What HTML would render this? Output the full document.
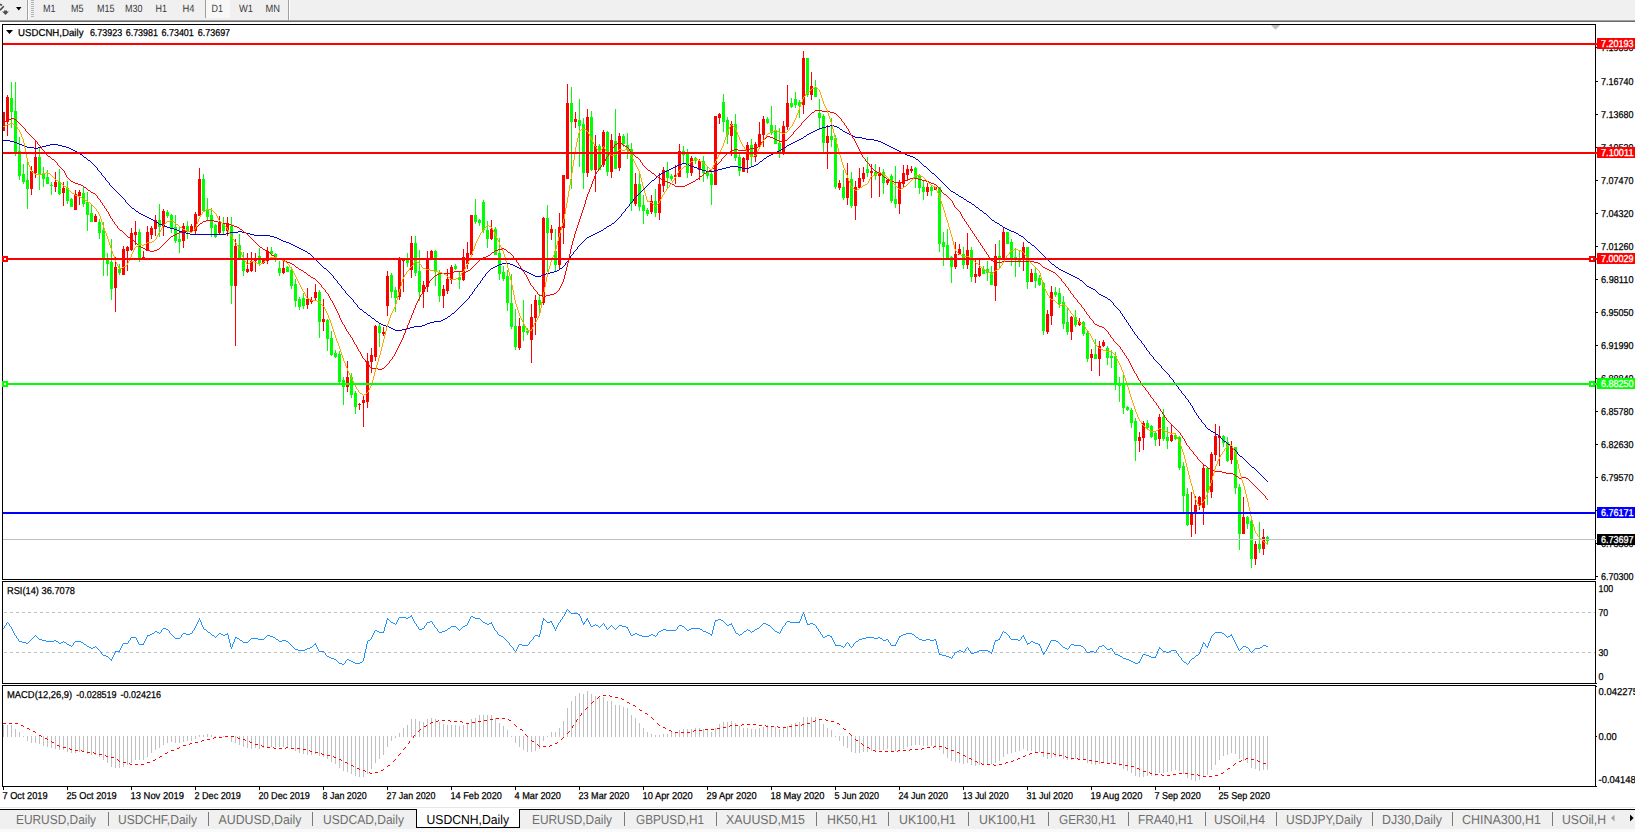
<!DOCTYPE html>
<html><head><meta charset="utf-8"><title>USDCNH,Daily</title>
<style>html,body{margin:0;padding:0;background:#fff;overflow:hidden}body{width:1635px;height:832px;font-family:"Liberation Sans",sans-serif}</style></head>
<body>
<svg width="1635" height="832" viewBox="0 0 1635 832" font-family='"Liberation Sans", sans-serif' text-rendering="geometricPrecision" style="display:block">
<rect x="0" y="0" width="1635" height="832" fill="#fff"/>
<g shape-rendering="crispEdges">
<rect x="0" y="0" width="1635" height="20" fill="#f0f0f0"/>
<rect x="0" y="20" width="1635" height="1" fill="#a0a0a0"/>
<rect x="0" y="21" width="1635" height="1" fill="#696969"/>
<rect x="27" y="0" width="1" height="20" fill="#a0a0a0"/>
<rect x="28" y="0" width="1" height="20" fill="#ffffff"/>
<rect x="205" y="0" width="1" height="18" fill="#a0a0a0"/>
<rect x="288" y="0" width="1" height="20" fill="#a0a0a0"/>
<rect x="289" y="0" width="1" height="20" fill="#ffffff"/>
<rect x="31" y="0" width="3" height="1" fill="#b4b4b4"/>
<rect x="31" y="2" width="3" height="1" fill="#b4b4b4"/>
<rect x="31" y="4" width="3" height="1" fill="#b4b4b4"/>
<rect x="31" y="6" width="3" height="1" fill="#b4b4b4"/>
<rect x="31" y="8" width="3" height="1" fill="#b4b4b4"/>
<rect x="31" y="10" width="3" height="1" fill="#b4b4b4"/>
<rect x="31" y="12" width="3" height="1" fill="#b4b4b4"/>
<rect x="31" y="14" width="3" height="1" fill="#b4b4b4"/>
<rect x="31" y="16" width="3" height="1" fill="#b4b4b4"/>
<rect x="206" y="0" width="24" height="18" fill="#f8f8f8"/>
</g>
<path d="M0 4.3 L2 5.4 M3.8 6.3 L0 10.2" stroke="#484848" stroke-width="1.6" fill="none"/>
<path d="M4 10.6 L7 10.6 L7 11.6 L8.9 11.6 L5.5 15 L2.1 11.6 L4 11.6 Z" fill="#505050"/>
<path d="M16 7 L21.5 7 L18.75 10.5 Z" fill="#000"/>
<text x="43" y="12" font-size="10.5" fill="#3c3c3c" text-anchor="start" textLength="12.5" lengthAdjust="spacingAndGlyphs">M1</text>
<text x="71" y="12" font-size="10.5" fill="#3c3c3c" text-anchor="start" textLength="12.5" lengthAdjust="spacingAndGlyphs">M5</text>
<text x="97" y="12" font-size="10.5" fill="#3c3c3c" text-anchor="start" textLength="17.5" lengthAdjust="spacingAndGlyphs">M15</text>
<text x="125" y="12" font-size="10.5" fill="#3c3c3c" text-anchor="start" textLength="17.5" lengthAdjust="spacingAndGlyphs">M30</text>
<text x="155.5" y="12" font-size="10.5" fill="#3c3c3c" text-anchor="start" textLength="11.5" lengthAdjust="spacingAndGlyphs">H1</text>
<text x="182.5" y="12" font-size="10.5" fill="#3c3c3c" text-anchor="start" textLength="12" lengthAdjust="spacingAndGlyphs">H4</text>
<text x="211.5" y="12" font-size="10.5" fill="#3c3c3c" text-anchor="start" textLength="11.5" lengthAdjust="spacingAndGlyphs">D1</text>
<text x="239" y="12" font-size="10.5" fill="#3c3c3c" text-anchor="start" textLength="14" lengthAdjust="spacingAndGlyphs">W1</text>
<text x="265.5" y="12" font-size="10.5" fill="#3c3c3c" text-anchor="start" textLength="14.5" lengthAdjust="spacingAndGlyphs">MN</text>
<g shape-rendering="crispEdges">
<rect x="2" y="24" width="1594" height="1" fill="#000"/>
<rect x="2" y="579" width="1594" height="1" fill="#000"/>
<rect x="2" y="24" width="1" height="556" fill="#000"/>
<rect x="1595" y="24" width="1" height="556" fill="#000"/>
<rect x="2" y="581" width="1594" height="1" fill="#000"/>
<rect x="2" y="683" width="1594" height="1" fill="#000"/>
<rect x="2" y="581" width="1" height="103" fill="#000"/>
<rect x="1595" y="581" width="1" height="103" fill="#000"/>
<rect x="2" y="685" width="1594" height="1" fill="#000"/>
<rect x="2" y="786" width="1594" height="1" fill="#000"/>
<rect x="2" y="685" width="1" height="102" fill="#000"/>
<rect x="1595" y="685" width="1" height="102" fill="#000"/>
</g>
<defs><clipPath id="cm"><rect x="3" y="25" width="1592" height="554"/></clipPath>
<clipPath id="cr"><rect x="3" y="582" width="1592" height="101"/></clipPath>
<clipPath id="cd"><rect x="3" y="686" width="1592" height="100"/></clipPath></defs>
<g shape-rendering="crispEdges">
<rect x="1596" y="47" width="2" height="1" fill="#000"/>
<rect x="1596" y="81" width="2" height="1" fill="#000"/>
<rect x="1596" y="114" width="2" height="1" fill="#000"/>
<rect x="1596" y="147" width="2" height="1" fill="#000"/>
<rect x="1596" y="180" width="2" height="1" fill="#000"/>
<rect x="1596" y="213" width="2" height="1" fill="#000"/>
<rect x="1596" y="246" width="2" height="1" fill="#000"/>
<rect x="1596" y="279" width="2" height="1" fill="#000"/>
<rect x="1596" y="312" width="2" height="1" fill="#000"/>
<rect x="1596" y="345" width="2" height="1" fill="#000"/>
<rect x="1596" y="378" width="2" height="1" fill="#000"/>
<rect x="1596" y="411" width="2" height="1" fill="#000"/>
<rect x="1596" y="444" width="2" height="1" fill="#000"/>
<rect x="1596" y="477" width="2" height="1" fill="#000"/>
<rect x="1596" y="543" width="2" height="1" fill="#000"/>
<rect x="1596" y="576" width="2" height="1" fill="#000"/>
</g>
<text x="1601" y="50.5" font-size="10.0" fill="#000" text-anchor="start" textLength="32.5" lengthAdjust="spacingAndGlyphs" stroke="#000" stroke-width="0.25">7.19890</text>
<text x="1601" y="84.5" font-size="10.0" fill="#000" text-anchor="start" textLength="32.5" lengthAdjust="spacingAndGlyphs" stroke="#000" stroke-width="0.25">7.16740</text>
<text x="1601" y="117.5" font-size="10.0" fill="#000" text-anchor="start" textLength="32.5" lengthAdjust="spacingAndGlyphs" stroke="#000" stroke-width="0.25">7.13680</text>
<text x="1601" y="150.5" font-size="10.0" fill="#000" text-anchor="start" textLength="32.5" lengthAdjust="spacingAndGlyphs" stroke="#000" stroke-width="0.25">7.10530</text>
<text x="1601" y="183.5" font-size="10.0" fill="#000" text-anchor="start" textLength="32.5" lengthAdjust="spacingAndGlyphs" stroke="#000" stroke-width="0.25">7.07470</text>
<text x="1601" y="216.5" font-size="10.0" fill="#000" text-anchor="start" textLength="32.5" lengthAdjust="spacingAndGlyphs" stroke="#000" stroke-width="0.25">7.04320</text>
<text x="1601" y="249.5" font-size="10.0" fill="#000" text-anchor="start" textLength="32.5" lengthAdjust="spacingAndGlyphs" stroke="#000" stroke-width="0.25">7.01260</text>
<text x="1601" y="282.5" font-size="10.0" fill="#000" text-anchor="start" textLength="32.5" lengthAdjust="spacingAndGlyphs" stroke="#000" stroke-width="0.25">6.98110</text>
<text x="1601" y="315.5" font-size="10.0" fill="#000" text-anchor="start" textLength="32.5" lengthAdjust="spacingAndGlyphs" stroke="#000" stroke-width="0.25">6.95050</text>
<text x="1601" y="348.5" font-size="10.0" fill="#000" text-anchor="start" textLength="32.5" lengthAdjust="spacingAndGlyphs" stroke="#000" stroke-width="0.25">6.91990</text>
<text x="1601" y="381.5" font-size="10.0" fill="#000" text-anchor="start" textLength="32.5" lengthAdjust="spacingAndGlyphs" stroke="#000" stroke-width="0.25">6.88840</text>
<text x="1601" y="414.5" font-size="10.0" fill="#000" text-anchor="start" textLength="32.5" lengthAdjust="spacingAndGlyphs" stroke="#000" stroke-width="0.25">6.85780</text>
<text x="1601" y="447.5" font-size="10.0" fill="#000" text-anchor="start" textLength="32.5" lengthAdjust="spacingAndGlyphs" stroke="#000" stroke-width="0.25">6.82630</text>
<text x="1601" y="480.5" font-size="10.0" fill="#000" text-anchor="start" textLength="32.5" lengthAdjust="spacingAndGlyphs" stroke="#000" stroke-width="0.25">6.79570</text>
<text x="1601" y="546.5" font-size="10.0" fill="#000" text-anchor="start" textLength="32.5" lengthAdjust="spacingAndGlyphs" stroke="#000" stroke-width="0.25">6.73360</text>
<text x="1601" y="579.5" font-size="10.0" fill="#000" text-anchor="start" textLength="32.5" lengthAdjust="spacingAndGlyphs" stroke="#000" stroke-width="0.25">6.70300</text>
<g clip-path="url(#cm)">
<g shape-rendering="crispEdges">
<rect x="3" y="112" width="1" height="19" fill="#ff0000"/>
<rect x="2" y="112" width="3" height="19" fill="#ff0000"/>
<rect x="7" y="95" width="1" height="41" fill="#ff0000"/>
<rect x="6" y="97" width="3" height="25" fill="#ff0000"/>
<rect x="11" y="82" width="1" height="46" fill="#00ff00"/>
<rect x="10" y="98" width="3" height="14" fill="#00ff00"/>
<rect x="15" y="82" width="1" height="74" fill="#00ff00"/>
<rect x="14" y="111" width="3" height="42" fill="#00ff00"/>
<rect x="19" y="137" width="1" height="43" fill="#00ff00"/>
<rect x="18" y="151" width="3" height="25" fill="#00ff00"/>
<rect x="23" y="164" width="1" height="20" fill="#00ff00"/>
<rect x="22" y="174" width="3" height="8" fill="#00ff00"/>
<rect x="27" y="162" width="1" height="47" fill="#00ff00"/>
<rect x="26" y="180" width="3" height="9" fill="#00ff00"/>
<rect x="31" y="166" width="1" height="29" fill="#ff0000"/>
<rect x="30" y="171" width="3" height="18" fill="#ff0000"/>
<rect x="35" y="140" width="1" height="38" fill="#ff0000"/>
<rect x="34" y="157" width="3" height="16" fill="#ff0000"/>
<rect x="39" y="147" width="1" height="43" fill="#00ff00"/>
<rect x="38" y="157" width="3" height="18" fill="#00ff00"/>
<rect x="43" y="167" width="1" height="20" fill="#00ff00"/>
<rect x="42" y="174" width="3" height="5" fill="#00ff00"/>
<rect x="47" y="170" width="1" height="14" fill="#00ff00"/>
<rect x="46" y="177" width="3" height="7" fill="#00ff00"/>
<rect x="51" y="182" width="1" height="13" fill="#00ff00"/>
<rect x="50" y="185" width="3" height="1" fill="#00ff00"/>
<rect x="55" y="172" width="1" height="20" fill="#ff0000"/>
<rect x="54" y="182" width="3" height="5" fill="#ff0000"/>
<rect x="59" y="169" width="1" height="26" fill="#00ff00"/>
<rect x="58" y="182" width="3" height="12" fill="#00ff00"/>
<rect x="63" y="182" width="1" height="24" fill="#ff0000"/>
<rect x="62" y="188" width="3" height="5" fill="#ff0000"/>
<rect x="67" y="181" width="1" height="23" fill="#00ff00"/>
<rect x="66" y="188" width="3" height="13" fill="#00ff00"/>
<rect x="71" y="198" width="1" height="9" fill="#00ff00"/>
<rect x="70" y="199" width="3" height="8" fill="#00ff00"/>
<rect x="75" y="190" width="1" height="20" fill="#ff0000"/>
<rect x="74" y="194" width="3" height="16" fill="#ff0000"/>
<rect x="79" y="190" width="1" height="15" fill="#ff0000"/>
<rect x="78" y="192" width="3" height="4" fill="#ff0000"/>
<rect x="83" y="187" width="1" height="20" fill="#00ff00"/>
<rect x="82" y="193" width="3" height="11" fill="#00ff00"/>
<rect x="87" y="192" width="1" height="39" fill="#00ff00"/>
<rect x="86" y="202" width="3" height="13" fill="#00ff00"/>
<rect x="91" y="204" width="1" height="18" fill="#00ff00"/>
<rect x="90" y="213" width="3" height="9" fill="#00ff00"/>
<rect x="95" y="214" width="1" height="8" fill="#ff0000"/>
<rect x="94" y="216" width="3" height="6" fill="#ff0000"/>
<rect x="99" y="219" width="1" height="20" fill="#00ff00"/>
<rect x="98" y="222" width="3" height="11" fill="#00ff00"/>
<rect x="103" y="222" width="1" height="54" fill="#00ff00"/>
<rect x="102" y="230" width="3" height="30" fill="#00ff00"/>
<rect x="107" y="253" width="1" height="23" fill="#00ff00"/>
<rect x="106" y="258" width="3" height="6" fill="#00ff00"/>
<rect x="111" y="239" width="1" height="61" fill="#00ff00"/>
<rect x="110" y="262" width="3" height="27" fill="#00ff00"/>
<rect x="115" y="257" width="1" height="55" fill="#ff0000"/>
<rect x="114" y="267" width="3" height="21" fill="#ff0000"/>
<rect x="119" y="264" width="1" height="11" fill="#00ff00"/>
<rect x="118" y="269" width="3" height="4" fill="#00ff00"/>
<rect x="123" y="246" width="1" height="29" fill="#ff0000"/>
<rect x="122" y="249" width="3" height="26" fill="#ff0000"/>
<rect x="127" y="246" width="1" height="25" fill="#ff0000"/>
<rect x="126" y="247" width="3" height="4" fill="#ff0000"/>
<rect x="131" y="228" width="1" height="23" fill="#ff0000"/>
<rect x="130" y="233" width="3" height="17" fill="#ff0000"/>
<rect x="135" y="221" width="1" height="24" fill="#ff0000"/>
<rect x="134" y="232" width="3" height="3" fill="#ff0000"/>
<rect x="139" y="229" width="1" height="33" fill="#00ff00"/>
<rect x="138" y="232" width="3" height="27" fill="#00ff00"/>
<rect x="143" y="251" width="1" height="9" fill="#ff0000"/>
<rect x="142" y="257" width="3" height="3" fill="#ff0000"/>
<rect x="147" y="226" width="1" height="25" fill="#ff0000"/>
<rect x="146" y="232" width="3" height="19" fill="#ff0000"/>
<rect x="151" y="226" width="1" height="13" fill="#ff0000"/>
<rect x="150" y="228" width="3" height="7" fill="#ff0000"/>
<rect x="155" y="215" width="1" height="21" fill="#ff0000"/>
<rect x="154" y="220" width="3" height="9" fill="#ff0000"/>
<rect x="159" y="204" width="1" height="33" fill="#00ff00"/>
<rect x="158" y="220" width="3" height="7" fill="#00ff00"/>
<rect x="163" y="209" width="1" height="27" fill="#ff0000"/>
<rect x="162" y="211" width="3" height="16" fill="#ff0000"/>
<rect x="167" y="210" width="1" height="8" fill="#00ff00"/>
<rect x="166" y="212" width="3" height="4" fill="#00ff00"/>
<rect x="171" y="214" width="1" height="19" fill="#00ff00"/>
<rect x="170" y="215" width="3" height="13" fill="#00ff00"/>
<rect x="175" y="215" width="1" height="28" fill="#00ff00"/>
<rect x="174" y="227" width="3" height="14" fill="#00ff00"/>
<rect x="179" y="226" width="1" height="27" fill="#00ff00"/>
<rect x="178" y="239" width="3" height="3" fill="#00ff00"/>
<rect x="183" y="223" width="1" height="25" fill="#ff0000"/>
<rect x="182" y="226" width="3" height="15" fill="#ff0000"/>
<rect x="187" y="221" width="1" height="18" fill="#00ff00"/>
<rect x="186" y="226" width="3" height="5" fill="#00ff00"/>
<rect x="191" y="224" width="1" height="8" fill="#ff0000"/>
<rect x="190" y="226" width="3" height="5" fill="#ff0000"/>
<rect x="195" y="212" width="1" height="23" fill="#ff0000"/>
<rect x="194" y="214" width="3" height="17" fill="#ff0000"/>
<rect x="199" y="168" width="1" height="48" fill="#ff0000"/>
<rect x="198" y="179" width="3" height="37" fill="#ff0000"/>
<rect x="203" y="174" width="1" height="37" fill="#00ff00"/>
<rect x="202" y="179" width="3" height="32" fill="#00ff00"/>
<rect x="207" y="198" width="1" height="23" fill="#00ff00"/>
<rect x="206" y="209" width="3" height="8" fill="#00ff00"/>
<rect x="211" y="208" width="1" height="29" fill="#00ff00"/>
<rect x="210" y="215" width="3" height="13" fill="#00ff00"/>
<rect x="215" y="224" width="1" height="14" fill="#00ff00"/>
<rect x="214" y="225" width="3" height="12" fill="#00ff00"/>
<rect x="219" y="216" width="1" height="18" fill="#ff0000"/>
<rect x="218" y="222" width="3" height="11" fill="#ff0000"/>
<rect x="223" y="217" width="1" height="18" fill="#00ff00"/>
<rect x="222" y="224" width="3" height="7" fill="#00ff00"/>
<rect x="227" y="217" width="1" height="19" fill="#ff0000"/>
<rect x="226" y="224" width="3" height="7" fill="#ff0000"/>
<rect x="231" y="217" width="1" height="87" fill="#00ff00"/>
<rect x="230" y="226" width="3" height="60" fill="#00ff00"/>
<rect x="235" y="239" width="1" height="107" fill="#ff0000"/>
<rect x="234" y="246" width="3" height="40" fill="#ff0000"/>
<rect x="239" y="234" width="1" height="25" fill="#00ff00"/>
<rect x="238" y="245" width="3" height="14" fill="#00ff00"/>
<rect x="243" y="252" width="1" height="24" fill="#00ff00"/>
<rect x="242" y="260" width="3" height="11" fill="#00ff00"/>
<rect x="247" y="253" width="1" height="20" fill="#ff0000"/>
<rect x="246" y="269" width="3" height="3" fill="#ff0000"/>
<rect x="251" y="252" width="1" height="20" fill="#ff0000"/>
<rect x="250" y="261" width="3" height="10" fill="#ff0000"/>
<rect x="255" y="253" width="1" height="19" fill="#ff0000"/>
<rect x="254" y="258" width="3" height="3" fill="#ff0000"/>
<rect x="259" y="248" width="1" height="18" fill="#00ff00"/>
<rect x="258" y="256" width="3" height="7" fill="#00ff00"/>
<rect x="263" y="258" width="1" height="6" fill="#ff0000"/>
<rect x="262" y="260" width="3" height="3" fill="#ff0000"/>
<rect x="267" y="247" width="1" height="17" fill="#ff0000"/>
<rect x="266" y="251" width="3" height="10" fill="#ff0000"/>
<rect x="271" y="247" width="1" height="9" fill="#00ff00"/>
<rect x="270" y="251" width="3" height="3" fill="#00ff00"/>
<rect x="275" y="253" width="1" height="9" fill="#00ff00"/>
<rect x="274" y="254" width="3" height="4" fill="#00ff00"/>
<rect x="279" y="261" width="1" height="15" fill="#00ff00"/>
<rect x="278" y="268" width="3" height="5" fill="#00ff00"/>
<rect x="283" y="261" width="1" height="13" fill="#ff0000"/>
<rect x="282" y="268" width="3" height="5" fill="#ff0000"/>
<rect x="287" y="266" width="1" height="6" fill="#00ff00"/>
<rect x="286" y="267" width="3" height="5" fill="#00ff00"/>
<rect x="291" y="267" width="1" height="22" fill="#00ff00"/>
<rect x="290" y="270" width="3" height="16" fill="#00ff00"/>
<rect x="295" y="279" width="1" height="28" fill="#00ff00"/>
<rect x="294" y="284" width="3" height="17" fill="#00ff00"/>
<rect x="299" y="297" width="1" height="13" fill="#00ff00"/>
<rect x="298" y="299" width="3" height="8" fill="#00ff00"/>
<rect x="303" y="293" width="1" height="16" fill="#00ff00"/>
<rect x="302" y="298" width="3" height="8" fill="#00ff00"/>
<rect x="307" y="288" width="1" height="21" fill="#ff0000"/>
<rect x="306" y="299" width="3" height="6" fill="#ff0000"/>
<rect x="311" y="297" width="1" height="7" fill="#ff0000"/>
<rect x="310" y="300" width="3" height="2" fill="#ff0000"/>
<rect x="315" y="284" width="1" height="17" fill="#ff0000"/>
<rect x="314" y="292" width="3" height="6" fill="#ff0000"/>
<rect x="319" y="290" width="1" height="48" fill="#00ff00"/>
<rect x="318" y="292" width="3" height="30" fill="#00ff00"/>
<rect x="323" y="299" width="1" height="32" fill="#ff0000"/>
<rect x="322" y="319" width="3" height="3" fill="#ff0000"/>
<rect x="327" y="319" width="1" height="32" fill="#00ff00"/>
<rect x="326" y="320" width="3" height="19" fill="#00ff00"/>
<rect x="331" y="331" width="1" height="25" fill="#00ff00"/>
<rect x="330" y="338" width="3" height="17" fill="#00ff00"/>
<rect x="335" y="350" width="1" height="8" fill="#00ff00"/>
<rect x="334" y="353" width="3" height="4" fill="#00ff00"/>
<rect x="339" y="351" width="1" height="32" fill="#00ff00"/>
<rect x="338" y="354" width="3" height="28" fill="#00ff00"/>
<rect x="343" y="377" width="1" height="28" fill="#00ff00"/>
<rect x="342" y="380" width="3" height="7" fill="#00ff00"/>
<rect x="347" y="361" width="1" height="31" fill="#ff0000"/>
<rect x="346" y="377" width="3" height="10" fill="#ff0000"/>
<rect x="351" y="373" width="1" height="25" fill="#00ff00"/>
<rect x="350" y="377" width="3" height="18" fill="#00ff00"/>
<rect x="355" y="391" width="1" height="23" fill="#00ff00"/>
<rect x="354" y="393" width="3" height="14" fill="#00ff00"/>
<rect x="359" y="403" width="1" height="7" fill="#ff0000"/>
<rect x="358" y="404" width="3" height="1" fill="#ff0000"/>
<rect x="363" y="396" width="1" height="31" fill="#ff0000"/>
<rect x="362" y="400" width="3" height="3" fill="#ff0000"/>
<rect x="367" y="353" width="1" height="55" fill="#ff0000"/>
<rect x="366" y="361" width="3" height="41" fill="#ff0000"/>
<rect x="371" y="348" width="1" height="25" fill="#ff0000"/>
<rect x="370" y="355" width="3" height="7" fill="#ff0000"/>
<rect x="375" y="325" width="1" height="36" fill="#ff0000"/>
<rect x="374" y="326" width="3" height="31" fill="#ff0000"/>
<rect x="379" y="323" width="1" height="24" fill="#00ff00"/>
<rect x="378" y="326" width="3" height="7" fill="#00ff00"/>
<rect x="383" y="327" width="1" height="9" fill="#ff0000"/>
<rect x="382" y="332" width="3" height="2" fill="#ff0000"/>
<rect x="387" y="271" width="1" height="45" fill="#ff0000"/>
<rect x="386" y="276" width="3" height="30" fill="#ff0000"/>
<rect x="391" y="273" width="1" height="25" fill="#00ff00"/>
<rect x="390" y="275" width="3" height="17" fill="#00ff00"/>
<rect x="395" y="287" width="1" height="25" fill="#00ff00"/>
<rect x="394" y="290" width="3" height="8" fill="#00ff00"/>
<rect x="399" y="257" width="1" height="43" fill="#ff0000"/>
<rect x="398" y="260" width="3" height="37" fill="#ff0000"/>
<rect x="403" y="258" width="1" height="34" fill="#ff0000"/>
<rect x="402" y="258" width="3" height="3" fill="#ff0000"/>
<rect x="407" y="253" width="1" height="14" fill="#00ff00"/>
<rect x="406" y="260" width="3" height="3" fill="#00ff00"/>
<rect x="411" y="236" width="1" height="42" fill="#ff0000"/>
<rect x="410" y="243" width="3" height="27" fill="#ff0000"/>
<rect x="415" y="236" width="1" height="40" fill="#00ff00"/>
<rect x="414" y="243" width="3" height="30" fill="#00ff00"/>
<rect x="419" y="250" width="1" height="51" fill="#00ff00"/>
<rect x="418" y="271" width="3" height="21" fill="#00ff00"/>
<rect x="423" y="281" width="1" height="27" fill="#ff0000"/>
<rect x="422" y="285" width="3" height="7" fill="#ff0000"/>
<rect x="427" y="251" width="1" height="41" fill="#ff0000"/>
<rect x="426" y="258" width="3" height="29" fill="#ff0000"/>
<rect x="431" y="250" width="1" height="8" fill="#ff0000"/>
<rect x="430" y="251" width="3" height="7" fill="#ff0000"/>
<rect x="435" y="250" width="1" height="36" fill="#00ff00"/>
<rect x="434" y="251" width="3" height="21" fill="#00ff00"/>
<rect x="439" y="270" width="1" height="32" fill="#00ff00"/>
<rect x="438" y="273" width="3" height="23" fill="#00ff00"/>
<rect x="443" y="285" width="1" height="23" fill="#ff0000"/>
<rect x="442" y="289" width="3" height="7" fill="#ff0000"/>
<rect x="447" y="269" width="1" height="25" fill="#ff0000"/>
<rect x="446" y="279" width="3" height="12" fill="#ff0000"/>
<rect x="451" y="265" width="1" height="19" fill="#ff0000"/>
<rect x="450" y="267" width="3" height="13" fill="#ff0000"/>
<rect x="455" y="264" width="1" height="6" fill="#00ff00"/>
<rect x="454" y="266" width="3" height="3" fill="#00ff00"/>
<rect x="459" y="271" width="1" height="18" fill="#00ff00"/>
<rect x="458" y="277" width="3" height="3" fill="#00ff00"/>
<rect x="463" y="249" width="1" height="32" fill="#ff0000"/>
<rect x="462" y="257" width="3" height="23" fill="#ff0000"/>
<rect x="467" y="242" width="1" height="27" fill="#ff0000"/>
<rect x="466" y="253" width="3" height="11" fill="#ff0000"/>
<rect x="471" y="215" width="1" height="40" fill="#ff0000"/>
<rect x="470" y="215" width="3" height="40" fill="#ff0000"/>
<rect x="475" y="199" width="1" height="25" fill="#00ff00"/>
<rect x="474" y="215" width="3" height="7" fill="#00ff00"/>
<rect x="479" y="219" width="1" height="7" fill="#00ff00"/>
<rect x="478" y="220" width="3" height="3" fill="#00ff00"/>
<rect x="483" y="200" width="1" height="33" fill="#00ff00"/>
<rect x="482" y="202" width="3" height="28" fill="#00ff00"/>
<rect x="487" y="221" width="1" height="27" fill="#00ff00"/>
<rect x="486" y="230" width="3" height="9" fill="#00ff00"/>
<rect x="491" y="220" width="1" height="20" fill="#ff0000"/>
<rect x="490" y="229" width="3" height="10" fill="#ff0000"/>
<rect x="495" y="227" width="1" height="28" fill="#00ff00"/>
<rect x="494" y="229" width="3" height="26" fill="#00ff00"/>
<rect x="499" y="238" width="1" height="42" fill="#00ff00"/>
<rect x="498" y="253" width="3" height="21" fill="#00ff00"/>
<rect x="503" y="266" width="1" height="15" fill="#00ff00"/>
<rect x="502" y="272" width="3" height="7" fill="#00ff00"/>
<rect x="507" y="270" width="1" height="41" fill="#00ff00"/>
<rect x="506" y="276" width="3" height="27" fill="#00ff00"/>
<rect x="511" y="274" width="1" height="55" fill="#00ff00"/>
<rect x="510" y="303" width="3" height="24" fill="#00ff00"/>
<rect x="515" y="309" width="1" height="41" fill="#00ff00"/>
<rect x="514" y="326" width="3" height="21" fill="#00ff00"/>
<rect x="519" y="318" width="1" height="32" fill="#ff0000"/>
<rect x="518" y="326" width="3" height="22" fill="#ff0000"/>
<rect x="523" y="300" width="1" height="41" fill="#00ff00"/>
<rect x="522" y="326" width="3" height="6" fill="#00ff00"/>
<rect x="527" y="328" width="1" height="7" fill="#00ff00"/>
<rect x="526" y="331" width="3" height="2" fill="#00ff00"/>
<rect x="531" y="304" width="1" height="59" fill="#ff0000"/>
<rect x="530" y="317" width="3" height="23" fill="#ff0000"/>
<rect x="535" y="295" width="1" height="40" fill="#ff0000"/>
<rect x="534" y="300" width="3" height="18" fill="#ff0000"/>
<rect x="539" y="294" width="1" height="21" fill="#00ff00"/>
<rect x="538" y="300" width="3" height="5" fill="#00ff00"/>
<rect x="543" y="217" width="1" height="88" fill="#ff0000"/>
<rect x="542" y="218" width="3" height="85" fill="#ff0000"/>
<rect x="547" y="205" width="1" height="67" fill="#00ff00"/>
<rect x="546" y="218" width="3" height="15" fill="#00ff00"/>
<rect x="551" y="225" width="1" height="15" fill="#ff0000"/>
<rect x="550" y="229" width="3" height="4" fill="#ff0000"/>
<rect x="555" y="229" width="1" height="43" fill="#00ff00"/>
<rect x="554" y="251" width="3" height="14" fill="#00ff00"/>
<rect x="559" y="213" width="1" height="57" fill="#ff0000"/>
<rect x="558" y="227" width="3" height="38" fill="#ff0000"/>
<rect x="563" y="175" width="1" height="69" fill="#ff0000"/>
<rect x="562" y="175" width="3" height="53" fill="#ff0000"/>
<rect x="567" y="84" width="1" height="95" fill="#ff0000"/>
<rect x="566" y="103" width="3" height="76" fill="#ff0000"/>
<rect x="571" y="87" width="1" height="102" fill="#00ff00"/>
<rect x="570" y="103" width="3" height="19" fill="#00ff00"/>
<rect x="575" y="112" width="1" height="16" fill="#ff0000"/>
<rect x="574" y="119" width="3" height="3" fill="#ff0000"/>
<rect x="579" y="99" width="1" height="68" fill="#00ff00"/>
<rect x="578" y="120" width="3" height="6" fill="#00ff00"/>
<rect x="583" y="118" width="1" height="71" fill="#00ff00"/>
<rect x="582" y="124" width="3" height="49" fill="#00ff00"/>
<rect x="587" y="109" width="1" height="68" fill="#ff0000"/>
<rect x="586" y="117" width="3" height="56" fill="#ff0000"/>
<rect x="591" y="111" width="1" height="60" fill="#00ff00"/>
<rect x="590" y="117" width="3" height="53" fill="#00ff00"/>
<rect x="595" y="135" width="1" height="57" fill="#ff0000"/>
<rect x="594" y="146" width="3" height="24" fill="#ff0000"/>
<rect x="599" y="144" width="1" height="26" fill="#00ff00"/>
<rect x="598" y="146" width="3" height="24" fill="#00ff00"/>
<rect x="603" y="130" width="1" height="37" fill="#ff0000"/>
<rect x="602" y="132" width="3" height="33" fill="#ff0000"/>
<rect x="607" y="131" width="1" height="45" fill="#00ff00"/>
<rect x="606" y="132" width="3" height="40" fill="#00ff00"/>
<rect x="611" y="134" width="1" height="44" fill="#ff0000"/>
<rect x="610" y="140" width="3" height="32" fill="#ff0000"/>
<rect x="615" y="109" width="1" height="60" fill="#00ff00"/>
<rect x="614" y="141" width="3" height="28" fill="#00ff00"/>
<rect x="619" y="133" width="1" height="38" fill="#ff0000"/>
<rect x="618" y="136" width="3" height="32" fill="#ff0000"/>
<rect x="623" y="134" width="1" height="13" fill="#00ff00"/>
<rect x="622" y="136" width="3" height="8" fill="#00ff00"/>
<rect x="627" y="133" width="1" height="26" fill="#00ff00"/>
<rect x="626" y="145" width="3" height="5" fill="#00ff00"/>
<rect x="631" y="143" width="1" height="68" fill="#00ff00"/>
<rect x="630" y="149" width="3" height="54" fill="#00ff00"/>
<rect x="635" y="173" width="1" height="33" fill="#ff0000"/>
<rect x="634" y="184" width="3" height="20" fill="#ff0000"/>
<rect x="639" y="171" width="1" height="40" fill="#00ff00"/>
<rect x="638" y="184" width="3" height="23" fill="#00ff00"/>
<rect x="643" y="195" width="1" height="29" fill="#00ff00"/>
<rect x="642" y="205" width="3" height="6" fill="#00ff00"/>
<rect x="647" y="208" width="1" height="8" fill="#00ff00"/>
<rect x="646" y="210" width="3" height="4" fill="#00ff00"/>
<rect x="651" y="195" width="1" height="19" fill="#ff0000"/>
<rect x="650" y="201" width="3" height="11" fill="#ff0000"/>
<rect x="655" y="189" width="1" height="28" fill="#00ff00"/>
<rect x="654" y="201" width="3" height="12" fill="#00ff00"/>
<rect x="659" y="173" width="1" height="47" fill="#ff0000"/>
<rect x="658" y="184" width="3" height="29" fill="#ff0000"/>
<rect x="663" y="167" width="1" height="25" fill="#ff0000"/>
<rect x="662" y="170" width="3" height="16" fill="#ff0000"/>
<rect x="667" y="162" width="1" height="27" fill="#00ff00"/>
<rect x="666" y="170" width="3" height="8" fill="#00ff00"/>
<rect x="671" y="174" width="1" height="7" fill="#00ff00"/>
<rect x="670" y="176" width="3" height="3" fill="#00ff00"/>
<rect x="675" y="165" width="1" height="19" fill="#ff0000"/>
<rect x="674" y="175" width="3" height="2" fill="#ff0000"/>
<rect x="679" y="144" width="1" height="33" fill="#ff0000"/>
<rect x="678" y="151" width="3" height="26" fill="#ff0000"/>
<rect x="683" y="146" width="1" height="17" fill="#00ff00"/>
<rect x="682" y="151" width="3" height="4" fill="#00ff00"/>
<rect x="687" y="149" width="1" height="29" fill="#00ff00"/>
<rect x="686" y="154" width="3" height="19" fill="#00ff00"/>
<rect x="691" y="156" width="1" height="20" fill="#ff0000"/>
<rect x="690" y="158" width="3" height="15" fill="#ff0000"/>
<rect x="695" y="157" width="1" height="7" fill="#00ff00"/>
<rect x="694" y="158" width="3" height="3" fill="#00ff00"/>
<rect x="699" y="159" width="1" height="21" fill="#ff0000"/>
<rect x="698" y="161" width="3" height="9" fill="#ff0000"/>
<rect x="703" y="156" width="1" height="26" fill="#00ff00"/>
<rect x="702" y="161" width="3" height="12" fill="#00ff00"/>
<rect x="707" y="166" width="1" height="13" fill="#00ff00"/>
<rect x="706" y="171" width="3" height="5" fill="#00ff00"/>
<rect x="711" y="172" width="1" height="33" fill="#00ff00"/>
<rect x="710" y="174" width="3" height="11" fill="#00ff00"/>
<rect x="715" y="116" width="1" height="69" fill="#ff0000"/>
<rect x="714" y="116" width="3" height="69" fill="#ff0000"/>
<rect x="719" y="113" width="1" height="11" fill="#ff0000"/>
<rect x="718" y="114" width="3" height="4" fill="#ff0000"/>
<rect x="723" y="94" width="1" height="38" fill="#00ff00"/>
<rect x="722" y="102" width="3" height="20" fill="#00ff00"/>
<rect x="727" y="117" width="1" height="27" fill="#00ff00"/>
<rect x="726" y="120" width="3" height="15" fill="#00ff00"/>
<rect x="731" y="121" width="1" height="35" fill="#ff0000"/>
<rect x="730" y="124" width="3" height="12" fill="#ff0000"/>
<rect x="735" y="114" width="1" height="47" fill="#00ff00"/>
<rect x="734" y="124" width="3" height="34" fill="#00ff00"/>
<rect x="739" y="154" width="1" height="22" fill="#00ff00"/>
<rect x="738" y="157" width="3" height="14" fill="#00ff00"/>
<rect x="743" y="157" width="1" height="15" fill="#ff0000"/>
<rect x="742" y="158" width="3" height="14" fill="#ff0000"/>
<rect x="747" y="142" width="1" height="31" fill="#ff0000"/>
<rect x="746" y="145" width="3" height="15" fill="#ff0000"/>
<rect x="751" y="139" width="1" height="27" fill="#00ff00"/>
<rect x="750" y="145" width="3" height="12" fill="#00ff00"/>
<rect x="755" y="142" width="1" height="20" fill="#ff0000"/>
<rect x="754" y="144" width="3" height="13" fill="#ff0000"/>
<rect x="759" y="122" width="1" height="25" fill="#ff0000"/>
<rect x="758" y="134" width="3" height="12" fill="#ff0000"/>
<rect x="763" y="116" width="1" height="31" fill="#ff0000"/>
<rect x="762" y="119" width="3" height="16" fill="#ff0000"/>
<rect x="767" y="117" width="1" height="7" fill="#00ff00"/>
<rect x="766" y="119" width="3" height="4" fill="#00ff00"/>
<rect x="771" y="106" width="1" height="29" fill="#00ff00"/>
<rect x="770" y="125" width="3" height="8" fill="#00ff00"/>
<rect x="775" y="125" width="1" height="19" fill="#00ff00"/>
<rect x="774" y="131" width="3" height="13" fill="#00ff00"/>
<rect x="779" y="128" width="1" height="30" fill="#00ff00"/>
<rect x="778" y="143" width="3" height="9" fill="#00ff00"/>
<rect x="783" y="121" width="1" height="34" fill="#ff0000"/>
<rect x="782" y="126" width="3" height="28" fill="#ff0000"/>
<rect x="787" y="85" width="1" height="45" fill="#ff0000"/>
<rect x="786" y="103" width="3" height="24" fill="#ff0000"/>
<rect x="791" y="98" width="1" height="10" fill="#00ff00"/>
<rect x="790" y="103" width="3" height="4" fill="#00ff00"/>
<rect x="795" y="92" width="1" height="16" fill="#00ff00"/>
<rect x="794" y="99" width="3" height="6" fill="#00ff00"/>
<rect x="799" y="100" width="1" height="18" fill="#00ff00"/>
<rect x="798" y="102" width="3" height="4" fill="#00ff00"/>
<rect x="803" y="51" width="1" height="63" fill="#ff0000"/>
<rect x="802" y="58" width="3" height="47" fill="#ff0000"/>
<rect x="807" y="58" width="1" height="39" fill="#00ff00"/>
<rect x="806" y="58" width="3" height="37" fill="#00ff00"/>
<rect x="811" y="72" width="1" height="28" fill="#ff0000"/>
<rect x="810" y="86" width="3" height="9" fill="#ff0000"/>
<rect x="815" y="80" width="1" height="17" fill="#00ff00"/>
<rect x="814" y="87" width="3" height="10" fill="#00ff00"/>
<rect x="819" y="99" width="1" height="31" fill="#00ff00"/>
<rect x="818" y="113" width="3" height="5" fill="#00ff00"/>
<rect x="823" y="114" width="1" height="38" fill="#00ff00"/>
<rect x="822" y="116" width="3" height="27" fill="#00ff00"/>
<rect x="827" y="125" width="1" height="44" fill="#ff0000"/>
<rect x="826" y="136" width="3" height="7" fill="#ff0000"/>
<rect x="831" y="118" width="1" height="29" fill="#00ff00"/>
<rect x="830" y="136" width="3" height="4" fill="#00ff00"/>
<rect x="835" y="135" width="1" height="54" fill="#00ff00"/>
<rect x="834" y="138" width="3" height="49" fill="#00ff00"/>
<rect x="839" y="180" width="1" height="10" fill="#ff0000"/>
<rect x="838" y="183" width="3" height="5" fill="#ff0000"/>
<rect x="843" y="170" width="1" height="30" fill="#00ff00"/>
<rect x="842" y="187" width="3" height="11" fill="#00ff00"/>
<rect x="847" y="163" width="1" height="42" fill="#ff0000"/>
<rect x="846" y="178" width="3" height="20" fill="#ff0000"/>
<rect x="851" y="172" width="1" height="36" fill="#00ff00"/>
<rect x="850" y="179" width="3" height="27" fill="#00ff00"/>
<rect x="855" y="181" width="1" height="39" fill="#ff0000"/>
<rect x="854" y="187" width="3" height="19" fill="#ff0000"/>
<rect x="859" y="168" width="1" height="21" fill="#ff0000"/>
<rect x="858" y="178" width="3" height="10" fill="#ff0000"/>
<rect x="863" y="167" width="1" height="15" fill="#ff0000"/>
<rect x="862" y="173" width="3" height="6" fill="#ff0000"/>
<rect x="867" y="157" width="1" height="20" fill="#00ff00"/>
<rect x="866" y="169" width="3" height="4" fill="#00ff00"/>
<rect x="871" y="164" width="1" height="34" fill="#ff0000"/>
<rect x="870" y="171" width="3" height="2" fill="#ff0000"/>
<rect x="875" y="164" width="1" height="16" fill="#00ff00"/>
<rect x="874" y="172" width="3" height="4" fill="#00ff00"/>
<rect x="879" y="167" width="1" height="30" fill="#ff0000"/>
<rect x="878" y="172" width="3" height="4" fill="#ff0000"/>
<rect x="883" y="169" width="1" height="25" fill="#00ff00"/>
<rect x="882" y="172" width="3" height="11" fill="#00ff00"/>
<rect x="887" y="179" width="1" height="6" fill="#ff0000"/>
<rect x="886" y="180" width="3" height="3" fill="#ff0000"/>
<rect x="891" y="174" width="1" height="29" fill="#00ff00"/>
<rect x="890" y="176" width="3" height="25" fill="#00ff00"/>
<rect x="895" y="166" width="1" height="42" fill="#00ff00"/>
<rect x="894" y="199" width="3" height="5" fill="#00ff00"/>
<rect x="899" y="180" width="1" height="34" fill="#ff0000"/>
<rect x="898" y="183" width="3" height="21" fill="#ff0000"/>
<rect x="903" y="165" width="1" height="23" fill="#ff0000"/>
<rect x="902" y="173" width="3" height="11" fill="#ff0000"/>
<rect x="907" y="165" width="1" height="16" fill="#ff0000"/>
<rect x="906" y="169" width="3" height="6" fill="#ff0000"/>
<rect x="911" y="166" width="1" height="7" fill="#ff0000"/>
<rect x="910" y="169" width="3" height="2" fill="#ff0000"/>
<rect x="915" y="167" width="1" height="21" fill="#00ff00"/>
<rect x="914" y="168" width="3" height="10" fill="#00ff00"/>
<rect x="919" y="174" width="1" height="20" fill="#00ff00"/>
<rect x="918" y="176" width="3" height="12" fill="#00ff00"/>
<rect x="923" y="180" width="1" height="20" fill="#00ff00"/>
<rect x="922" y="187" width="3" height="5" fill="#00ff00"/>
<rect x="927" y="183" width="1" height="13" fill="#ff0000"/>
<rect x="926" y="187" width="3" height="5" fill="#ff0000"/>
<rect x="931" y="185" width="1" height="11" fill="#00ff00"/>
<rect x="930" y="187" width="3" height="4" fill="#00ff00"/>
<rect x="935" y="187" width="1" height="3" fill="#ff0000"/>
<rect x="934" y="187" width="3" height="3" fill="#ff0000"/>
<rect x="939" y="187" width="1" height="65" fill="#00ff00"/>
<rect x="938" y="187" width="3" height="57" fill="#00ff00"/>
<rect x="943" y="232" width="1" height="34" fill="#00ff00"/>
<rect x="942" y="242" width="3" height="5" fill="#00ff00"/>
<rect x="947" y="229" width="1" height="30" fill="#00ff00"/>
<rect x="946" y="245" width="3" height="14" fill="#00ff00"/>
<rect x="951" y="256" width="1" height="27" fill="#00ff00"/>
<rect x="950" y="257" width="3" height="10" fill="#00ff00"/>
<rect x="955" y="242" width="1" height="27" fill="#ff0000"/>
<rect x="954" y="254" width="3" height="13" fill="#ff0000"/>
<rect x="959" y="244" width="1" height="11" fill="#ff0000"/>
<rect x="958" y="249" width="3" height="6" fill="#ff0000"/>
<rect x="963" y="247" width="1" height="22" fill="#00ff00"/>
<rect x="962" y="254" width="3" height="11" fill="#00ff00"/>
<rect x="967" y="233" width="1" height="36" fill="#ff0000"/>
<rect x="966" y="250" width="3" height="15" fill="#ff0000"/>
<rect x="971" y="247" width="1" height="35" fill="#00ff00"/>
<rect x="970" y="250" width="3" height="27" fill="#00ff00"/>
<rect x="975" y="258" width="1" height="25" fill="#ff0000"/>
<rect x="974" y="274" width="3" height="3" fill="#ff0000"/>
<rect x="979" y="258" width="1" height="19" fill="#ff0000"/>
<rect x="978" y="268" width="3" height="8" fill="#ff0000"/>
<rect x="983" y="266" width="1" height="8" fill="#00ff00"/>
<rect x="982" y="269" width="3" height="5" fill="#00ff00"/>
<rect x="987" y="261" width="1" height="20" fill="#00ff00"/>
<rect x="986" y="269" width="3" height="4" fill="#00ff00"/>
<rect x="991" y="266" width="1" height="19" fill="#00ff00"/>
<rect x="990" y="272" width="3" height="13" fill="#00ff00"/>
<rect x="995" y="244" width="1" height="57" fill="#ff0000"/>
<rect x="994" y="256" width="3" height="30" fill="#ff0000"/>
<rect x="999" y="240" width="1" height="28" fill="#00ff00"/>
<rect x="998" y="256" width="3" height="4" fill="#00ff00"/>
<rect x="1003" y="228" width="1" height="32" fill="#ff0000"/>
<rect x="1002" y="232" width="3" height="28" fill="#ff0000"/>
<rect x="1007" y="232" width="1" height="12" fill="#00ff00"/>
<rect x="1006" y="232" width="3" height="12" fill="#00ff00"/>
<rect x="1011" y="239" width="1" height="27" fill="#00ff00"/>
<rect x="1010" y="242" width="3" height="18" fill="#00ff00"/>
<rect x="1015" y="248" width="1" height="29" fill="#00ff00"/>
<rect x="1014" y="257" width="3" height="3" fill="#00ff00"/>
<rect x="1019" y="251" width="1" height="16" fill="#00ff00"/>
<rect x="1018" y="258" width="3" height="3" fill="#00ff00"/>
<rect x="1023" y="242" width="1" height="29" fill="#ff0000"/>
<rect x="1022" y="247" width="3" height="13" fill="#ff0000"/>
<rect x="1027" y="247" width="1" height="42" fill="#00ff00"/>
<rect x="1026" y="247" width="3" height="35" fill="#00ff00"/>
<rect x="1031" y="269" width="1" height="13" fill="#ff0000"/>
<rect x="1030" y="273" width="3" height="9" fill="#ff0000"/>
<rect x="1035" y="267" width="1" height="21" fill="#00ff00"/>
<rect x="1034" y="273" width="3" height="8" fill="#00ff00"/>
<rect x="1039" y="275" width="1" height="11" fill="#00ff00"/>
<rect x="1038" y="278" width="3" height="7" fill="#00ff00"/>
<rect x="1043" y="282" width="1" height="53" fill="#00ff00"/>
<rect x="1042" y="283" width="3" height="48" fill="#00ff00"/>
<rect x="1047" y="310" width="1" height="24" fill="#ff0000"/>
<rect x="1046" y="314" width="3" height="18" fill="#ff0000"/>
<rect x="1051" y="286" width="1" height="39" fill="#ff0000"/>
<rect x="1050" y="292" width="3" height="24" fill="#ff0000"/>
<rect x="1055" y="287" width="1" height="10" fill="#00ff00"/>
<rect x="1054" y="292" width="3" height="3" fill="#00ff00"/>
<rect x="1059" y="288" width="1" height="20" fill="#00ff00"/>
<rect x="1058" y="293" width="3" height="11" fill="#00ff00"/>
<rect x="1063" y="296" width="1" height="33" fill="#00ff00"/>
<rect x="1062" y="302" width="3" height="22" fill="#00ff00"/>
<rect x="1067" y="308" width="1" height="27" fill="#00ff00"/>
<rect x="1066" y="322" width="3" height="10" fill="#00ff00"/>
<rect x="1071" y="316" width="1" height="24" fill="#ff0000"/>
<rect x="1070" y="317" width="3" height="15" fill="#ff0000"/>
<rect x="1075" y="310" width="1" height="17" fill="#00ff00"/>
<rect x="1074" y="317" width="3" height="8" fill="#00ff00"/>
<rect x="1079" y="318" width="1" height="8" fill="#ff0000"/>
<rect x="1078" y="322" width="3" height="3" fill="#ff0000"/>
<rect x="1083" y="321" width="1" height="15" fill="#00ff00"/>
<rect x="1082" y="322" width="3" height="12" fill="#00ff00"/>
<rect x="1087" y="331" width="1" height="31" fill="#00ff00"/>
<rect x="1086" y="333" width="3" height="26" fill="#00ff00"/>
<rect x="1091" y="349" width="1" height="22" fill="#ff0000"/>
<rect x="1090" y="354" width="3" height="4" fill="#ff0000"/>
<rect x="1095" y="339" width="1" height="20" fill="#00ff00"/>
<rect x="1094" y="354" width="3" height="5" fill="#00ff00"/>
<rect x="1099" y="341" width="1" height="35" fill="#ff0000"/>
<rect x="1098" y="346" width="3" height="13" fill="#ff0000"/>
<rect x="1103" y="340" width="1" height="7" fill="#ff0000"/>
<rect x="1102" y="342" width="3" height="4" fill="#ff0000"/>
<rect x="1107" y="346" width="1" height="19" fill="#00ff00"/>
<rect x="1106" y="348" width="3" height="10" fill="#00ff00"/>
<rect x="1111" y="350" width="1" height="18" fill="#00ff00"/>
<rect x="1110" y="356" width="3" height="2" fill="#00ff00"/>
<rect x="1115" y="352" width="1" height="38" fill="#00ff00"/>
<rect x="1114" y="356" width="3" height="28" fill="#00ff00"/>
<rect x="1119" y="377" width="1" height="25" fill="#00ff00"/>
<rect x="1118" y="383" width="3" height="3" fill="#00ff00"/>
<rect x="1123" y="374" width="1" height="40" fill="#00ff00"/>
<rect x="1122" y="383" width="3" height="25" fill="#00ff00"/>
<rect x="1127" y="406" width="1" height="5" fill="#00ff00"/>
<rect x="1126" y="407" width="3" height="3" fill="#00ff00"/>
<rect x="1131" y="408" width="1" height="20" fill="#00ff00"/>
<rect x="1130" y="410" width="3" height="13" fill="#00ff00"/>
<rect x="1135" y="418" width="1" height="43" fill="#00ff00"/>
<rect x="1134" y="421" width="3" height="20" fill="#00ff00"/>
<rect x="1139" y="432" width="1" height="20" fill="#ff0000"/>
<rect x="1138" y="437" width="3" height="4" fill="#ff0000"/>
<rect x="1143" y="421" width="1" height="29" fill="#ff0000"/>
<rect x="1142" y="423" width="3" height="15" fill="#ff0000"/>
<rect x="1147" y="420" width="1" height="10" fill="#00ff00"/>
<rect x="1146" y="423" width="3" height="5" fill="#00ff00"/>
<rect x="1151" y="425" width="1" height="13" fill="#00ff00"/>
<rect x="1150" y="426" width="3" height="11" fill="#00ff00"/>
<rect x="1155" y="432" width="1" height="14" fill="#00ff00"/>
<rect x="1154" y="433" width="3" height="7" fill="#00ff00"/>
<rect x="1159" y="414" width="1" height="32" fill="#ff0000"/>
<rect x="1158" y="417" width="3" height="22" fill="#ff0000"/>
<rect x="1163" y="409" width="1" height="32" fill="#00ff00"/>
<rect x="1162" y="417" width="3" height="22" fill="#00ff00"/>
<rect x="1167" y="427" width="1" height="22" fill="#00ff00"/>
<rect x="1166" y="437" width="3" height="4" fill="#00ff00"/>
<rect x="1171" y="425" width="1" height="17" fill="#ff0000"/>
<rect x="1170" y="435" width="3" height="6" fill="#ff0000"/>
<rect x="1175" y="435" width="1" height="5" fill="#00ff00"/>
<rect x="1174" y="435" width="3" height="4" fill="#00ff00"/>
<rect x="1179" y="436" width="1" height="34" fill="#00ff00"/>
<rect x="1178" y="437" width="3" height="31" fill="#00ff00"/>
<rect x="1183" y="462" width="1" height="50" fill="#00ff00"/>
<rect x="1182" y="466" width="3" height="30" fill="#00ff00"/>
<rect x="1187" y="488" width="1" height="38" fill="#00ff00"/>
<rect x="1186" y="494" width="3" height="31" fill="#00ff00"/>
<rect x="1191" y="492" width="1" height="45" fill="#ff0000"/>
<rect x="1190" y="512" width="3" height="13" fill="#ff0000"/>
<rect x="1195" y="496" width="1" height="38" fill="#ff0000"/>
<rect x="1194" y="505" width="3" height="8" fill="#ff0000"/>
<rect x="1199" y="496" width="1" height="14" fill="#ff0000"/>
<rect x="1198" y="497" width="3" height="8" fill="#ff0000"/>
<rect x="1203" y="465" width="1" height="60" fill="#ff0000"/>
<rect x="1202" y="468" width="3" height="40" fill="#ff0000"/>
<rect x="1207" y="467" width="1" height="38" fill="#00ff00"/>
<rect x="1206" y="468" width="3" height="24" fill="#00ff00"/>
<rect x="1211" y="452" width="1" height="46" fill="#ff0000"/>
<rect x="1210" y="454" width="3" height="38" fill="#ff0000"/>
<rect x="1215" y="424" width="1" height="37" fill="#ff0000"/>
<rect x="1214" y="436" width="3" height="19" fill="#ff0000"/>
<rect x="1219" y="426" width="1" height="40" fill="#ff0000"/>
<rect x="1218" y="436" width="3" height="2" fill="#ff0000"/>
<rect x="1223" y="435" width="1" height="12" fill="#00ff00"/>
<rect x="1222" y="436" width="3" height="7" fill="#00ff00"/>
<rect x="1227" y="437" width="1" height="25" fill="#00ff00"/>
<rect x="1226" y="442" width="3" height="19" fill="#00ff00"/>
<rect x="1231" y="441" width="1" height="23" fill="#ff0000"/>
<rect x="1230" y="446" width="3" height="14" fill="#ff0000"/>
<rect x="1235" y="447" width="1" height="47" fill="#00ff00"/>
<rect x="1234" y="447" width="3" height="41" fill="#00ff00"/>
<rect x="1239" y="484" width="1" height="66" fill="#00ff00"/>
<rect x="1238" y="487" width="3" height="47" fill="#00ff00"/>
<rect x="1243" y="497" width="1" height="37" fill="#ff0000"/>
<rect x="1242" y="517" width="3" height="17" fill="#ff0000"/>
<rect x="1247" y="516" width="1" height="13" fill="#00ff00"/>
<rect x="1246" y="517" width="3" height="7" fill="#00ff00"/>
<rect x="1251" y="520" width="1" height="48" fill="#00ff00"/>
<rect x="1250" y="521" width="3" height="38" fill="#00ff00"/>
<rect x="1255" y="541" width="1" height="24" fill="#ff0000"/>
<rect x="1254" y="544" width="3" height="15" fill="#ff0000"/>
<rect x="1259" y="522" width="1" height="31" fill="#00ff00"/>
<rect x="1258" y="544" width="3" height="5" fill="#00ff00"/>
<rect x="1263" y="529" width="1" height="26" fill="#ff0000"/>
<rect x="1262" y="537" width="3" height="12" fill="#ff0000"/>
<rect x="1267" y="536" width="1" height="9" fill="#00ff00"/>
<rect x="1266" y="537" width="3" height="4" fill="#00ff00"/>
</g>
<path d="M830 125.5h4M826 126.5h4M834 126.5h3M822 127.5h4M837 127.5h2M819 128.5h3M817 129.5h2M840 129.5h2M815 130.5h2M813 131.5h2M843 131.5h2M811 132.5h2M845 132.5h2M809 133.5h2M847 133.5h2M807 134.5h2M849 134.5h2M851 135.5h2M804 136.5h2M853 136.5h2M855 137.5h7M801 138.5h2M862 138.5h4M799 139.5h2M866 139.5h8M3 140.5h7M797 140.5h2M874 140.5h4M10 141.5h4M795 141.5h2M878 141.5h3M14 142.5h3M793 142.5h2M881 142.5h2M17 143.5h2M791 143.5h2M883 143.5h2M19 144.5h3M50 144.5h8M789 144.5h2M885 144.5h2M22 145.5h3M46 145.5h4M58 145.5h4M787 145.5h2M887 145.5h2M25 146.5h2M42 146.5h4M62 146.5h4M889 146.5h2M27 147.5h7M38 147.5h4M66 147.5h3M784 147.5h2M891 147.5h2M34 148.5h4M69 148.5h2M893 148.5h2M71 149.5h2M781 149.5h2M895 149.5h2M73 150.5h2M779 150.5h2M897 150.5h2M75 151.5h2M777 151.5h2M899 151.5h2M77 152.5h2M775 152.5h2M901 152.5h2M773 153.5h2M903 153.5h2M80 154.5h2M771 154.5h2M905 154.5h2M769 155.5h2M907 155.5h3M767 156.5h2M910 156.5h3M84 157.5h2M913 157.5h2M764 158.5h2M916 159.5h2M88 160.5h2M760 161.5h2M682 163.5h4M679 164.5h3M686 164.5h3M756 164.5h2M677 165.5h2M689 165.5h2M754 165.5h2M675 166.5h2M691 166.5h3M730 166.5h8M751 166.5h3M924 166.5h2M673 167.5h2M694 167.5h3M726 167.5h4M738 167.5h4M749 167.5h2M671 168.5h2M697 168.5h2M722 168.5h4M742 168.5h7M669 169.5h2M699 169.5h3M718 169.5h4M667 170.5h2M702 170.5h4M714 170.5h4M665 171.5h2M706 171.5h8M663 172.5h2M661 173.5h2M932 173.5h2M659 174.5h2M652 180.5h2M951 191.5h2M953 192.5h2M956 194.5h2M959 196.5h2M961 197.5h2M964 199.5h2M967 201.5h2M969 202.5h2M972 204.5h2M976 207.5h2M132 208.5h2M980 210.5h2M136 211.5h2M139 213.5h2M984 213.5h2M141 214.5h2M143 215.5h2M145 216.5h2M147 217.5h2M149 218.5h2M151 219.5h2M153 220.5h2M992 220.5h2M156 222.5h2M995 222.5h2M612 223.5h2M997 223.5h2M159 224.5h3M162 225.5h3M609 225.5h2M1000 225.5h2M165 226.5h2M607 226.5h2M167 227.5h3M1003 227.5h2M170 228.5h4M604 228.5h2M1005 228.5h2M174 229.5h3M1007 229.5h2M177 230.5h2M601 230.5h2M1009 230.5h2M179 231.5h3M238 231.5h4M599 231.5h2M1011 231.5h3M182 232.5h4M230 232.5h8M242 232.5h4M597 232.5h2M1014 232.5h2M186 233.5h4M226 233.5h4M246 233.5h4M595 233.5h2M1016 233.5h2M190 234.5h36M250 234.5h4M593 234.5h2M254 235.5h16M591 235.5h2M1019 235.5h2M270 236.5h4M589 236.5h2M1021 236.5h2M274 237.5h3M587 237.5h2M277 238.5h2M279 239.5h2M281 240.5h2M283 241.5h3M286 242.5h3M1028 242.5h2M289 243.5h2M291 244.5h2M293 245.5h2M1032 245.5h2M295 246.5h2M297 247.5h2M299 248.5h2M301 249.5h2M303 250.5h2M305 251.5h2M308 253.5h2M502 263.5h8M499 264.5h3M510 264.5h3M1052 264.5h2M497 265.5h2M513 265.5h2M495 266.5h2M515 266.5h2M493 267.5h2M517 267.5h2M1056 267.5h2M324 268.5h2M491 268.5h2M519 268.5h2M560 268.5h2M521 269.5h2M1059 269.5h2M523 270.5h2M557 270.5h2M1061 270.5h2M525 271.5h2M554 271.5h3M1063 271.5h2M527 272.5h2M550 272.5h4M1065 272.5h2M529 273.5h2M546 273.5h4M1067 273.5h2M531 274.5h2M543 274.5h3M1069 274.5h2M533 275.5h2M541 275.5h2M1071 275.5h2M535 276.5h6M1073 276.5h2M1075 277.5h2M1077 278.5h2M1080 280.5h2M1087 286.5h2M1089 287.5h2M1091 288.5h2M1093 289.5h2M1099 294.5h2M1101 295.5h2M1103 296.5h2M1105 297.5h2M1108 299.5h2M360 309.5h2M364 312.5h2M452 313.5h2M368 315.5h2M448 316.5h2M372 318.5h2M445 318.5h2M443 319.5h2M441 320.5h2M376 321.5h2M434 321.5h7M430 322.5h4M379 323.5h2M427 323.5h3M381 324.5h2M425 324.5h2M383 325.5h3M422 325.5h3M386 326.5h3M414 326.5h8M389 327.5h2M410 327.5h4M391 328.5h2M406 328.5h4M393 329.5h2M402 329.5h4M395 330.5h7M1208 429.5h2M1211 431.5h2M1213 432.5h2M1216 434.5h2M1224 441.5h2M1228 444.5h2M1240 456.5h2M1252 467.5h2M79.5 153v1M82.5 155v1M83.5 156v1M86.5 158v1M87.5 159v1M90.5 161v1M91.5 162v1M92.5 163v1M93.5 164v1M94.5 165v1M95.5 166v1M96.5 167v1M97.5 168v2M98.5 170v1M99.5 171v1M100.5 172v1M101.5 173v2M102.5 175v1M103.5 176v1M104.5 177v1M105.5 178v2M106.5 180v1M107.5 181v1M108.5 182v1M109.5 183v2M110.5 185v1M111.5 186v1M112.5 187v1M113.5 188v1M114.5 189v1M115.5 190v1M116.5 191v1M117.5 192v1M118.5 193v1M119.5 194v1M120.5 195v1M121.5 196v1M122.5 197v1M123.5 198v1M124.5 199v1M125.5 200v2M126.5 202v1M127.5 203v1M128.5 204v1M129.5 205v1M130.5 206v1M131.5 207v1M134.5 209v1M135.5 210v1M138.5 212v1M155.5 221v1M158.5 223v1M307.5 252v1M310.5 254v1M311.5 255v1M312.5 256v1M313.5 257v1M314.5 258v1M315.5 259v1M316.5 260v1M317.5 261v1M318.5 262v1M319.5 263v1M320.5 264v1M321.5 265v1M322.5 266v1M323.5 267v1M326.5 269v1M327.5 270v1M328.5 271v1M329.5 272v1M330.5 273v1M331.5 274v1M332.5 275v1M333.5 276v2M334.5 278v1M335.5 279v1M336.5 280v1M337.5 281v2M338.5 283v1M339.5 284v1M340.5 285v1M341.5 286v2M342.5 288v1M343.5 289v1M344.5 290v1M345.5 291v2M346.5 293v1M347.5 294v1M348.5 295v1M349.5 296v1M350.5 297v1M351.5 298v1M352.5 299v1M353.5 300v2M354.5 302v1M355.5 303v1M356.5 304v1M357.5 305v2M358.5 307v1M359.5 308v1M362.5 310v1M363.5 311v1M366.5 313v1M367.5 314v1M370.5 316v1M371.5 317v1M374.5 319v1M375.5 320v1M378.5 322v1M447.5 317v1M450.5 315v1M451.5 314v1M454.5 312v1M455.5 311v1M456.5 310v1M457.5 309v1M458.5 308v1M459.5 307v1M460.5 306v1M461.5 305v1M462.5 304v1M463.5 303v1M464.5 302v1M465.5 301v1M466.5 300v1M467.5 299v1M468.5 298v1M469.5 296v2M470.5 295v1M471.5 294v1M472.5 292v2M473.5 291v1M474.5 289v2M475.5 288v1M476.5 287v1M477.5 285v2M478.5 284v1M479.5 283v1M480.5 281v2M481.5 280v1M482.5 278v2M483.5 277v1M484.5 276v1M485.5 274v2M486.5 273v1M487.5 272v1M488.5 271v1M489.5 270v1M490.5 269v1M559.5 269v1M562.5 267v1M563.5 266v1M564.5 265v1M565.5 263v2M566.5 262v1M567.5 261v1M568.5 259v2M569.5 258v1M570.5 256v2M571.5 255v1M572.5 254v1M573.5 252v2M574.5 251v1M575.5 250v1M576.5 249v1M577.5 247v2M578.5 246v1M579.5 245v1M580.5 244v1M581.5 243v1M582.5 242v1M583.5 241v1M584.5 240v1M585.5 239v1M586.5 238v1M603.5 229v1M606.5 227v1M611.5 224v1M614.5 222v1M615.5 221v1M616.5 220v1M617.5 219v1M618.5 218v1M619.5 217v1M620.5 216v1M621.5 214v2M622.5 213v1M623.5 212v1M624.5 211v1M625.5 209v2M626.5 208v1M627.5 207v1M628.5 206v1M629.5 204v2M630.5 203v1M631.5 202v1M632.5 201v1M633.5 199v2M634.5 198v1M635.5 197v1M636.5 196v1M637.5 195v1M638.5 194v1M639.5 193v1M640.5 192v1M641.5 191v1M642.5 190v1M643.5 189v1M644.5 188v1M645.5 187v1M646.5 186v1M647.5 185v1M648.5 184v1M649.5 183v1M650.5 182v1M651.5 181v1M654.5 179v1M655.5 178v1M656.5 177v1M657.5 176v1M658.5 175v1M758.5 163v1M759.5 162v1M762.5 160v1M763.5 159v1M766.5 157v1M783.5 148v1M786.5 146v1M803.5 137v1M806.5 135v1M839.5 128v1M842.5 130v1M915.5 158v1M918.5 160v1M919.5 161v1M920.5 162v1M921.5 163v1M922.5 164v1M923.5 165v1M926.5 167v1M927.5 168v1M928.5 169v1M929.5 170v1M930.5 171v1M931.5 172v1M934.5 174v1M935.5 175v1M936.5 176v1M937.5 177v1M938.5 178v1M939.5 179v1M940.5 180v1M941.5 181v1M942.5 182v1M943.5 183v1M944.5 184v1M945.5 185v1M946.5 186v1M947.5 187v1M948.5 188v1M949.5 189v1M950.5 190v1M955.5 193v1M958.5 195v1M963.5 198v1M966.5 200v1M971.5 203v1M974.5 205v1M975.5 206v1M978.5 208v1M979.5 209v1M982.5 211v1M983.5 212v1M986.5 214v1M987.5 215v1M988.5 216v1M989.5 217v1M990.5 218v1M991.5 219v1M994.5 221v1M999.5 224v1M1002.5 226v1M1018.5 234v1M1023.5 237v1M1024.5 238v1M1025.5 239v1M1026.5 240v1M1027.5 241v1M1030.5 243v1M1031.5 244v1M1034.5 246v1M1035.5 247v1M1036.5 248v1M1037.5 249v1M1038.5 250v1M1039.5 251v1M1040.5 252v1M1041.5 253v1M1042.5 254v1M1043.5 255v1M1044.5 256v1M1045.5 257v1M1046.5 258v1M1047.5 259v1M1048.5 260v1M1049.5 261v1M1050.5 262v1M1051.5 263v1M1054.5 265v1M1055.5 266v1M1058.5 268v1M1079.5 279v1M1082.5 281v1M1083.5 282v1M1084.5 283v1M1085.5 284v1M1086.5 285v1M1095.5 290v1M1096.5 291v1M1097.5 292v1M1098.5 293v1M1107.5 298v1M1110.5 300v1M1111.5 301v1M1112.5 302v1M1113.5 303v2M1114.5 305v1M1115.5 306v1M1116.5 307v1M1117.5 308v1M1118.5 309v1M1119.5 310v1M1120.5 311v2M1121.5 313v1M1122.5 314v2M1123.5 316v1M1124.5 317v2M1125.5 319v1M1126.5 320v2M1127.5 322v1M1128.5 323v2M1129.5 325v1M1130.5 326v2M1131.5 328v1M1132.5 329v2M1133.5 331v1M1134.5 332v2M1135.5 334v1M1136.5 335v1M1137.5 336v2M1138.5 338v1M1139.5 339v1M1140.5 340v1M1141.5 341v2M1142.5 343v1M1143.5 344v1M1144.5 345v2M1145.5 347v1M1146.5 348v2M1147.5 350v1M1148.5 351v1M1149.5 352v2M1150.5 354v1M1151.5 355v1M1152.5 356v1M1153.5 357v2M1154.5 359v1M1155.5 360v1M1156.5 361v1M1157.5 362v1M1158.5 363v1M1159.5 364v1M1160.5 365v1M1161.5 366v2M1162.5 368v1M1163.5 369v1M1164.5 370v1M1165.5 371v1M1166.5 372v1M1167.5 373v1M1168.5 374v1M1169.5 375v2M1170.5 377v1M1171.5 378v1M1172.5 379v1M1173.5 380v2M1174.5 382v1M1175.5 383v1M1176.5 384v2M1177.5 386v1M1178.5 387v2M1179.5 389v1M1180.5 390v1M1181.5 391v2M1182.5 393v1M1183.5 394v1M1184.5 395v1M1185.5 396v2M1186.5 398v1M1187.5 399v1M1188.5 400v2M1189.5 402v1M1190.5 403v2M1191.5 405v1M1192.5 406v2M1193.5 408v2M1194.5 410v2M1195.5 412v1M1196.5 413v2M1197.5 415v1M1198.5 416v2M1199.5 418v1M1200.5 419v1M1201.5 420v2M1202.5 422v1M1203.5 423v1M1204.5 424v1M1205.5 425v2M1206.5 427v1M1207.5 428v1M1210.5 430v1M1215.5 433v1M1218.5 435v1M1219.5 436v1M1220.5 437v1M1221.5 438v1M1222.5 439v1M1223.5 440v1M1226.5 442v1M1227.5 443v1M1230.5 445v1M1231.5 446v1M1232.5 447v1M1233.5 448v1M1234.5 449v1M1235.5 450v1M1236.5 451v1M1237.5 452v2M1238.5 454v1M1239.5 455v1M1242.5 457v1M1243.5 458v1M1244.5 459v1M1245.5 460v1M1246.5 461v1M1247.5 462v1M1248.5 463v1M1249.5 464v1M1250.5 465v1M1251.5 466v1M1254.5 468v1M1255.5 469v1M1256.5 470v1M1257.5 471v1M1258.5 472v1M1259.5 473v1M1260.5 474v1M1261.5 475v1M1262.5 476v1M1263.5 477v1M1264.5 478v1M1265.5 479v1M1266.5 480v1M1267.5 481v1" stroke="#0000cd" stroke-width="1" fill="none" shape-rendering="crispEdges"/>
<path d="M815 110.5h7M822 111.5h8M812 112.5h2M830 112.5h4M834 113.5h2M11 118.5h3M9 119.5h2M14 119.5h2M7 120.5h2M5 121.5h2M3 122.5h2M767 136.5h3M770 137.5h3M773 138.5h2M775 139.5h2M777 140.5h2M785 140.5h2M779 141.5h6M617 143.5h2M620 143.5h2M615 144.5h2M623 145.5h2M625 146.5h2M756 147.5h2M750 148.5h6M734 149.5h4M746 149.5h4M731 150.5h3M738 150.5h8M728 152.5h2M48 156.5h2M636 157.5h2M52 159.5h2M712 168.5h2M648 170.5h2M709 170.5h2M707 171.5h2M875 171.5h2M877 172.5h2M652 173.5h2M704 173.5h2M880 174.5h2M656 176.5h2M700 176.5h2M884 177.5h2M659 178.5h2M910 178.5h8M661 179.5h2M696 179.5h2M887 179.5h2M907 179.5h3M918 179.5h4M663 180.5h2M889 180.5h2M905 180.5h2M922 180.5h4M71 181.5h2M665 181.5h2M693 181.5h2M891 181.5h3M902 181.5h3M926 181.5h3M73 182.5h2M667 182.5h3M691 182.5h2M894 182.5h8M929 182.5h2M75 183.5h3M670 183.5h2M689 183.5h2M931 183.5h3M78 184.5h3M672 184.5h2M687 184.5h2M934 184.5h2M81 185.5h2M685 185.5h2M675 186.5h10M84 187.5h2M88 190.5h2M91 192.5h2M93 193.5h2M944 194.5h2M206 220.5h8M203 221.5h3M214 221.5h4M218 222.5h4M200 223.5h2M222 223.5h7M229 224.5h2M231 225.5h3M234 226.5h3M237 227.5h2M240 229.5h2M120 230.5h2M192 230.5h2M182 231.5h10M179 232.5h3M244 232.5h2M177 233.5h2M175 234.5h2M173 235.5h2M171 236.5h2M128 237.5h2M132 240.5h2M139 246.5h2M141 247.5h2M260 247.5h2M143 248.5h2M502 248.5h2M145 249.5h2M157 249.5h2M263 249.5h2M498 249.5h4M504 249.5h2M147 250.5h3M154 250.5h3M265 250.5h2M495 250.5h3M150 251.5h4M268 252.5h2M492 252.5h2M508 252.5h2M272 255.5h2M488 255.5h2M486 256.5h2M275 257.5h2M483 257.5h3M277 258.5h2M279 259.5h3M480 259.5h2M282 260.5h3M991 260.5h2M285 261.5h2M993 261.5h2M1002 261.5h32M287 262.5h3M995 262.5h7M1034 262.5h4M290 263.5h2M1038 263.5h2M292 264.5h2M296 267.5h2M1043 267.5h2M1045 268.5h2M299 269.5h2M1047 269.5h2M301 270.5h2M468 270.5h2M1049 270.5h2M454 271.5h8M466 271.5h2M1051 271.5h2M304 272.5h2M450 272.5h4M462 272.5h4M1053 272.5h2M439 273.5h11M437 274.5h2M308 275.5h2M435 275.5h2M311 277.5h2M313 278.5h2M554 293.5h2M550 294.5h4M539 295.5h3M546 295.5h4M542 296.5h4M1095 324.5h2M1097 325.5h2M1099 326.5h3M1102 327.5h2M371 368.5h7M382 368.5h2M378 369.5h4M1204 465.5h2M1208 468.5h2M1211 470.5h3M1214 471.5h8M1222 472.5h4M1226 473.5h7M1233 474.5h2M1236 476.5h2M1242 477.5h4M1239 478.5h3M1246 478.5h2M16.5 120v1M17.5 121v1M18.5 122v1M19.5 123v1M20.5 124v1M21.5 125v1M22.5 126v1M23.5 127v1M24.5 128v1M25.5 129v2M26.5 131v1M27.5 132v1M28.5 133v1M29.5 134v1M30.5 135v1M31.5 136v1M32.5 137v1M33.5 138v1M34.5 139v1M35.5 140v1M36.5 141v1M37.5 142v2M38.5 144v1M39.5 145v1M40.5 146v1M41.5 147v2M42.5 149v1M43.5 150v1M44.5 151v1M45.5 152v2M46.5 154v1M47.5 155v1M50.5 157v1M51.5 158v1M54.5 160v1M55.5 161v1M56.5 162v1M57.5 163v2M58.5 165v1M59.5 166v1M60.5 167v1M61.5 168v1M62.5 169v1M63.5 170v1M64.5 171v2M65.5 173v2M66.5 175v2M67.5 177v1M68.5 178v1M69.5 179v1M70.5 180v1M83.5 186v1M86.5 188v1M87.5 189v1M90.5 191v1M95.5 194v1M96.5 195v1M97.5 196v2M98.5 198v1M99.5 199v1M100.5 200v2M101.5 202v1M102.5 203v2M103.5 205v1M104.5 206v2M105.5 208v1M106.5 209v2M107.5 211v1M108.5 212v2M109.5 214v2M110.5 216v2M111.5 218v1M112.5 219v2M113.5 221v1M114.5 222v2M115.5 224v1M116.5 225v1M117.5 226v2M118.5 228v1M119.5 229v1M122.5 231v1M123.5 232v1M124.5 233v1M125.5 234v1M126.5 235v1M127.5 236v1M130.5 238v1M131.5 239v1M134.5 241v1M135.5 242v1M136.5 243v1M137.5 244v1M138.5 245v1M159.5 248v1M160.5 247v1M161.5 246v1M162.5 245v1M163.5 244v1M164.5 243v1M165.5 242v1M166.5 241v1M167.5 240v1M168.5 239v1M169.5 238v1M170.5 237v1M194.5 229v1M195.5 228v1M196.5 227v1M197.5 226v1M198.5 225v1M199.5 224v1M202.5 222v1M239.5 228v1M242.5 230v1M243.5 231v1M246.5 233v1M247.5 234v1M248.5 235v1M249.5 236v1M250.5 237v1M251.5 238v1M252.5 239v1M253.5 240v1M254.5 241v1M255.5 242v1M256.5 243v1M257.5 244v1M258.5 245v1M259.5 246v1M262.5 248v1M267.5 251v1M270.5 253v1M271.5 254v1M274.5 256v1M294.5 265v1M295.5 266v1M298.5 268v1M303.5 271v1M306.5 273v1M307.5 274v1M310.5 276v1M315.5 279v1M316.5 280v1M317.5 281v1M318.5 282v1M319.5 283v1M320.5 284v1M321.5 285v2M322.5 287v1M323.5 288v1M324.5 289v1M325.5 290v2M326.5 292v1M327.5 293v1M328.5 294v2M329.5 296v2M330.5 298v2M331.5 300v1M332.5 301v2M333.5 303v2M334.5 305v2M335.5 307v2M336.5 309v2M337.5 311v2M338.5 313v2M339.5 315v3M340.5 318v2M341.5 320v2M342.5 322v2M343.5 324v1M344.5 325v2M345.5 327v2M346.5 329v2M347.5 331v1M348.5 332v2M349.5 334v1M350.5 335v2M351.5 337v1M352.5 338v2M353.5 340v2M354.5 342v2M355.5 344v1M356.5 345v2M357.5 347v2M358.5 349v2M359.5 351v1M360.5 352v2M361.5 354v2M362.5 356v2M363.5 358v1M364.5 359v1M365.5 360v2M366.5 362v1M367.5 363v1M368.5 364v1M369.5 365v2M370.5 367v1M384.5 367v1M385.5 366v1M386.5 365v1M387.5 364v1M388.5 363v1M389.5 361v2M390.5 360v1M391.5 359v1M392.5 357v2M393.5 356v1M394.5 354v2M395.5 352v2M396.5 350v2M397.5 348v2M398.5 346v2M399.5 344v2M400.5 342v2M401.5 340v2M402.5 338v2M403.5 335v3M404.5 333v2M405.5 330v3M406.5 328v2M407.5 325v3M408.5 323v2M409.5 320v3M410.5 318v2M411.5 315v3M412.5 313v2M413.5 310v3M414.5 308v2M415.5 305v3M416.5 303v2M417.5 301v2M418.5 299v2M419.5 297v2M420.5 295v2M421.5 294v1M422.5 292v2M423.5 291v1M424.5 289v2M425.5 287v2M426.5 285v2M427.5 284v1M428.5 283v1M429.5 281v2M430.5 280v1M431.5 279v1M432.5 278v1M433.5 277v1M434.5 276v1M470.5 269v1M471.5 268v1M472.5 267v1M473.5 266v1M474.5 265v1M475.5 264v1M476.5 263v1M477.5 262v1M478.5 261v1M479.5 260v1M482.5 258v1M490.5 254v1M491.5 253v1M494.5 251v1M506.5 250v1M507.5 251v1M510.5 253v1M511.5 254v1M512.5 255v1M513.5 256v2M514.5 258v1M515.5 259v1M516.5 260v2M517.5 262v1M518.5 263v2M519.5 265v1M520.5 266v2M521.5 268v1M522.5 269v2M523.5 271v1M524.5 272v2M525.5 274v1M526.5 275v2M527.5 277v2M528.5 279v2M529.5 281v2M530.5 283v2M531.5 285v1M532.5 286v1M533.5 287v2M534.5 289v1M535.5 290v1M536.5 291v1M537.5 292v2M538.5 294v1M556.5 292v1M557.5 291v1M558.5 290v1M559.5 288v2M560.5 286v2M561.5 284v2M562.5 282v2M563.5 279v3M564.5 275v4M565.5 271v4M566.5 267v4M567.5 263v4M568.5 258v5M569.5 254v4M570.5 249v5M571.5 245v4M572.5 241v4M573.5 238v3M574.5 234v4M575.5 231v3M576.5 228v3M577.5 225v3M578.5 222v3M579.5 219v3M580.5 216v3M581.5 213v3M582.5 210v3M583.5 207v3M584.5 204v3M585.5 200v4M586.5 197v3M587.5 194v3M588.5 192v2M589.5 189v3M590.5 187v2M591.5 184v3M592.5 181v3M593.5 179v2M594.5 176v3M595.5 174v2M596.5 172v2M597.5 171v1M598.5 169v2M599.5 168v1M600.5 167v1M601.5 165v2M602.5 164v1M603.5 163v1M604.5 161v2M605.5 159v2M606.5 157v2M607.5 156v1M608.5 154v2M609.5 153v1M610.5 151v2M611.5 150v1M612.5 148v2M613.5 147v1M614.5 145v2M619.5 142v1M622.5 144v1M627.5 147v1M628.5 148v1M629.5 149v2M630.5 151v1M631.5 152v1M632.5 153v1M633.5 154v1M634.5 155v1M635.5 156v1M638.5 158v1M639.5 159v1M640.5 160v2M641.5 162v1M642.5 163v2M643.5 165v1M644.5 166v1M645.5 167v1M646.5 168v1M647.5 169v1M650.5 171v1M651.5 172v1M654.5 174v1M655.5 175v1M658.5 177v1M674.5 185v1M695.5 180v1M698.5 178v1M699.5 177v1M702.5 175v1M703.5 174v1M706.5 172v1M711.5 169v1M714.5 167v1M715.5 166v1M716.5 165v1M717.5 164v1M718.5 163v1M719.5 162v1M720.5 161v1M721.5 159v2M722.5 158v1M723.5 157v1M724.5 156v1M725.5 155v1M726.5 154v1M727.5 153v1M730.5 151v1M758.5 146v1M759.5 145v1M760.5 144v1M761.5 142v2M762.5 141v1M763.5 140v1M764.5 139v1M765.5 138v1M766.5 137v1M787.5 139v1M788.5 138v1M789.5 137v1M790.5 136v1M791.5 135v1M792.5 134v1M793.5 132v2M794.5 131v1M795.5 130v1M796.5 129v1M797.5 128v1M798.5 127v1M799.5 126v1M800.5 125v1M801.5 123v2M802.5 122v1M803.5 121v1M804.5 120v1M805.5 119v1M806.5 118v1M807.5 117v1M808.5 116v1M809.5 115v1M810.5 114v1M811.5 113v1M814.5 111v1M836.5 114v1M837.5 115v1M838.5 116v1M839.5 117v1M840.5 118v1M841.5 119v2M842.5 121v1M843.5 122v1M844.5 123v2M845.5 125v1M846.5 126v2M847.5 128v1M848.5 129v2M849.5 131v2M850.5 133v2M851.5 135v1M852.5 136v2M853.5 138v1M854.5 139v2M855.5 141v2M856.5 143v2M857.5 145v2M858.5 147v2M859.5 149v2M860.5 151v2M861.5 153v2M862.5 155v2M863.5 157v1M864.5 158v1M865.5 159v2M866.5 161v1M867.5 162v1M868.5 163v1M869.5 164v2M870.5 166v1M871.5 167v1M872.5 168v1M873.5 169v1M874.5 170v1M879.5 173v1M882.5 175v1M883.5 176v1M886.5 178v1M936.5 185v1M937.5 186v1M938.5 187v1M939.5 188v1M940.5 189v1M941.5 190v2M942.5 192v1M943.5 193v1M946.5 195v1M947.5 196v1M948.5 197v1M949.5 198v1M950.5 199v1M951.5 200v1M952.5 201v2M953.5 203v2M954.5 205v2M955.5 207v1M956.5 208v1M957.5 209v1M958.5 210v1M959.5 211v1M960.5 212v2M961.5 214v2M962.5 216v2M963.5 218v1M964.5 219v2M965.5 221v1M966.5 222v2M967.5 224v1M968.5 225v2M969.5 227v1M970.5 228v2M971.5 230v1M972.5 231v2M973.5 233v1M974.5 234v2M975.5 236v1M976.5 237v2M977.5 239v1M978.5 240v2M979.5 242v1M980.5 243v2M981.5 245v1M982.5 246v2M983.5 248v1M984.5 249v2M985.5 251v1M986.5 252v2M987.5 254v1M988.5 255v2M989.5 257v1M990.5 258v2M1040.5 264v1M1041.5 265v1M1042.5 266v1M1055.5 273v1M1056.5 274v1M1057.5 275v1M1058.5 276v1M1059.5 277v1M1060.5 278v1M1061.5 279v2M1062.5 281v1M1063.5 282v1M1064.5 283v1M1065.5 284v2M1066.5 286v1M1067.5 287v1M1068.5 288v2M1069.5 290v1M1070.5 291v2M1071.5 293v1M1072.5 294v1M1073.5 295v2M1074.5 297v1M1075.5 298v1M1076.5 299v1M1077.5 300v2M1078.5 302v1M1079.5 303v1M1080.5 304v1M1081.5 305v2M1082.5 307v1M1083.5 308v1M1084.5 309v2M1085.5 311v1M1086.5 312v2M1087.5 314v1M1088.5 315v1M1089.5 316v2M1090.5 318v1M1091.5 319v1M1092.5 320v1M1093.5 321v2M1094.5 323v1M1104.5 328v1M1105.5 329v1M1106.5 330v1M1107.5 331v1M1108.5 332v2M1109.5 334v1M1110.5 335v2M1111.5 337v1M1112.5 338v1M1113.5 339v2M1114.5 341v1M1115.5 342v1M1116.5 343v1M1117.5 344v1M1118.5 345v1M1119.5 346v1M1120.5 347v2M1121.5 349v1M1122.5 350v2M1123.5 352v1M1124.5 353v2M1125.5 355v1M1126.5 356v2M1127.5 358v1M1128.5 359v2M1129.5 361v2M1130.5 363v2M1131.5 365v2M1132.5 367v2M1133.5 369v2M1134.5 371v2M1135.5 373v1M1136.5 374v2M1137.5 376v2M1138.5 378v2M1139.5 380v1M1140.5 381v2M1141.5 383v1M1142.5 384v2M1143.5 386v1M1144.5 387v1M1145.5 388v2M1146.5 390v1M1147.5 391v1M1148.5 392v2M1149.5 394v1M1150.5 395v2M1151.5 397v1M1152.5 398v1M1153.5 399v2M1154.5 401v1M1155.5 402v1M1156.5 403v2M1157.5 405v1M1158.5 406v2M1159.5 408v1M1160.5 409v2M1161.5 411v1M1162.5 412v2M1163.5 414v1M1164.5 415v2M1165.5 417v1M1166.5 418v2M1167.5 420v1M1168.5 421v1M1169.5 422v1M1170.5 423v1M1171.5 424v1M1172.5 425v1M1173.5 426v1M1174.5 427v1M1175.5 428v1M1176.5 429v1M1177.5 430v1M1178.5 431v1M1179.5 432v1M1180.5 433v2M1181.5 435v1M1182.5 436v2M1183.5 438v1M1184.5 439v2M1185.5 441v2M1186.5 443v2M1187.5 445v1M1188.5 446v1M1189.5 447v2M1190.5 449v1M1191.5 450v1M1192.5 451v1M1193.5 452v2M1194.5 454v1M1195.5 455v1M1196.5 456v1M1197.5 457v2M1198.5 459v1M1199.5 460v1M1200.5 461v1M1201.5 462v1M1202.5 463v1M1203.5 464v1M1206.5 466v1M1207.5 467v1M1210.5 469v1M1235.5 475v1M1238.5 477v1M1248.5 479v1M1249.5 480v1M1250.5 481v1M1251.5 482v1M1252.5 483v1M1253.5 484v1M1254.5 485v1M1255.5 486v1M1256.5 487v1M1257.5 488v1M1258.5 489v1M1259.5 490v1M1260.5 491v1M1261.5 492v1M1262.5 493v1M1263.5 494v1M1264.5 495v1M1265.5 496v2M1266.5 498v1M1267.5 499v1" stroke="#ff0000" stroke-width="1" fill="none" shape-rendering="crispEdges"/>
<path d="M812 88.5h2M808 91.5h2M10 123.5h3M7 124.5h3M13 124.5h2M5 125.5h2M3 126.5h2M581 129.5h2M584 129.5h2M579 130.5h2M774 130.5h3M771 131.5h3M777 131.5h2M779 132.5h3M785 132.5h2M768 133.5h2M782 133.5h3M619 149.5h3M625 149.5h3M622 150.5h3M607 153.5h2M609 154.5h2M614 154.5h2M611 155.5h3M754 155.5h2M751 156.5h3M695 159.5h3M693 160.5h2M698 160.5h2M691 161.5h2M700 161.5h2M688 163.5h2M704 164.5h2M684 166.5h2M680 169.5h2M710 169.5h2M32 172.5h2M46 172.5h2M879 172.5h2M42 173.5h4M48 173.5h2M877 173.5h2M881 173.5h2M35 174.5h7M875 174.5h2M873 175.5h2M884 175.5h2M915 175.5h6M871 176.5h2M921 176.5h2M56 180.5h2M60 183.5h2M865 184.5h2M863 185.5h2M931 185.5h2M64 186.5h2M904 186.5h2M933 186.5h2M860 187.5h2M852 188.5h2M901 188.5h2M857 189.5h2M899 189.5h2M855 190.5h2M72 193.5h2M75 195.5h3M78 196.5h2M80 197.5h2M83 199.5h2M85 200.5h2M647 201.5h3M88 202.5h2M650 202.5h2M207 209.5h5M205 210.5h2M203 211.5h2M170 220.5h2M167 221.5h3M172 221.5h2M176 224.5h2M487 225.5h2M489 226.5h2M180 227.5h2M183 229.5h2M185 230.5h2M187 231.5h3M190 232.5h2M152 241.5h2M147 242.5h5M139 244.5h3M144 244.5h2M142 245.5h2M136 246.5h2M1014 249.5h4M1011 250.5h3M1018 250.5h3M1021 251.5h2M959 254.5h2M961 255.5h2M963 256.5h6M270 257.5h7M969 257.5h2M267 258.5h3M277 258.5h2M279 259.5h3M282 260.5h2M251 261.5h3M284 261.5h2M415 261.5h2M254 262.5h3M417 262.5h2M248 263.5h2M257 263.5h2M261 263.5h2M976 263.5h2M259 264.5h2M124 266.5h2M122 267.5h2M119 268.5h3M423 268.5h3M426 269.5h4M983 269.5h2M997 269.5h2M430 270.5h4M985 270.5h2M995 270.5h2M434 271.5h4M438 272.5h4M988 272.5h2M442 273.5h2M444 274.5h2M448 277.5h2M456 278.5h2M451 279.5h5M307 298.5h2M309 299.5h2M1051 299.5h2M311 300.5h6M1053 300.5h2M317 301.5h2M1062 304.5h2M1059 305.5h3M1064 305.5h2M1080 323.5h2M527 330.5h5M1099 348.5h2M1101 349.5h2M1103 350.5h3M1106 351.5h6M360 393.5h2M364 394.5h2M1159 428.5h2M1147 429.5h2M1161 429.5h2M1149 430.5h2M1156 430.5h2M1163 430.5h2M1151 431.5h5M1165 431.5h2M1167 432.5h3M1170 433.5h6M1227 445.5h5M1264 542.5h2M15.5 125v1M16.5 126v1M17.5 127v2M18.5 129v1M19.5 130v2M20.5 132v2M21.5 134v3M22.5 137v2M23.5 139v4M24.5 143v5M25.5 148v5M26.5 153v5M27.5 158v4M28.5 162v3M29.5 165v2M30.5 167v3M31.5 170v2M34.5 173v1M50.5 174v1M51.5 175v1M52.5 176v1M53.5 177v1M54.5 178v1M55.5 179v1M58.5 181v1M59.5 182v1M62.5 184v1M63.5 185v1M66.5 187v1M67.5 188v1M68.5 189v1M69.5 190v1M70.5 191v1M71.5 192v1M74.5 194v1M82.5 198v1M87.5 201v1M90.5 203v1M91.5 204v1M92.5 205v1M93.5 206v1M94.5 207v1M95.5 208v1M96.5 209v2M97.5 211v1M98.5 212v2M99.5 214v2M100.5 216v3M101.5 219v3M102.5 222v3M103.5 225v3M104.5 228v3M105.5 231v2M106.5 233v3M107.5 236v3M108.5 239v3M109.5 242v3M110.5 245v3M111.5 248v3M112.5 251v3M113.5 254v2M114.5 256v3M115.5 259v3M116.5 262v2M117.5 264v2M118.5 266v2M126.5 265v1M127.5 263v2M128.5 261v2M129.5 259v2M130.5 257v2M131.5 254v3M132.5 252v2M133.5 250v2M134.5 248v2M135.5 247v1M138.5 245v1M146.5 243v1M154.5 240v1M155.5 239v1M156.5 237v2M157.5 235v2M158.5 233v2M159.5 232v1M160.5 230v2M161.5 228v2M162.5 226v2M163.5 225v1M164.5 224v1M165.5 223v1M166.5 222v1M174.5 222v1M175.5 223v1M178.5 225v1M179.5 226v1M182.5 228v1M192.5 231v1M193.5 230v1M194.5 229v1M195.5 227v2M196.5 224v3M197.5 222v2M198.5 219v3M199.5 217v2M200.5 215v2M201.5 214v1M202.5 212v2M212.5 210v1M213.5 211v1M214.5 212v1M215.5 213v1M216.5 214v2M217.5 216v2M218.5 218v2M219.5 220v1M220.5 221v1M221.5 222v1M222.5 223v1M223.5 224v1M224.5 225v1M225.5 226v1M226.5 227v1M227.5 228v2M228.5 230v2M229.5 232v2M230.5 234v2M231.5 236v1M232.5 237v2M233.5 239v1M234.5 240v2M235.5 242v1M236.5 243v2M237.5 245v1M238.5 246v2M239.5 248v2M240.5 250v2M241.5 252v3M242.5 255v2M243.5 257v2M244.5 259v2M245.5 261v1M246.5 262v2M247.5 264v1M250.5 262v1M263.5 262v1M264.5 261v1M265.5 260v1M266.5 259v1M286.5 262v1M287.5 263v1M288.5 264v1M289.5 265v2M290.5 267v1M291.5 268v1M292.5 269v2M293.5 271v2M294.5 273v2M295.5 275v2M296.5 277v2M297.5 279v2M298.5 281v2M299.5 283v2M300.5 285v2M301.5 287v2M302.5 289v2M303.5 291v1M304.5 292v2M305.5 294v2M306.5 296v2M319.5 302v1M320.5 303v1M321.5 304v1M322.5 305v1M323.5 306v1M324.5 307v2M325.5 309v2M326.5 311v2M327.5 313v2M328.5 315v3M329.5 318v2M330.5 320v3M331.5 323v3M332.5 326v3M333.5 329v3M334.5 332v3M335.5 335v3M336.5 338v3M337.5 341v2M338.5 343v3M339.5 346v3M340.5 349v3M341.5 352v3M342.5 355v3M343.5 358v3M344.5 361v2M345.5 363v3M346.5 366v2M347.5 368v3M348.5 371v2M349.5 373v2M350.5 375v2M351.5 377v2M352.5 379v2M353.5 381v2M354.5 383v2M355.5 385v2M356.5 387v2M357.5 389v1M358.5 390v2M359.5 392v1M362.5 394v1M363.5 395v1M366.5 393v1M367.5 392v1M368.5 390v2M369.5 388v2M370.5 386v2M371.5 384v2M372.5 380v4M373.5 376v4M374.5 372v4M375.5 369v3M376.5 365v4M377.5 362v3M378.5 358v4M379.5 355v3M380.5 351v4M381.5 347v4M382.5 343v4M383.5 339v4M384.5 335v4M385.5 331v4M386.5 327v4M387.5 324v3M388.5 321v3M389.5 318v3M390.5 315v3M391.5 313v2M392.5 311v2M393.5 309v2M394.5 307v2M395.5 304v3M396.5 300v4M397.5 296v4M398.5 292v4M399.5 289v3M400.5 286v3M401.5 282v4M402.5 279v3M403.5 277v2M404.5 275v2M405.5 274v1M406.5 272v2M407.5 271v1M408.5 270v1M409.5 268v2M410.5 267v1M411.5 266v1M412.5 265v1M413.5 263v2M414.5 262v1M419.5 263v1M420.5 264v1M421.5 265v2M422.5 267v1M446.5 275v1M447.5 276v1M450.5 278v1M458.5 277v1M459.5 276v1M460.5 275v1M461.5 273v2M462.5 272v1M463.5 271v1M464.5 269v2M465.5 267v2M466.5 265v2M467.5 263v2M468.5 261v2M469.5 259v2M470.5 257v2M471.5 254v3M472.5 251v3M473.5 249v2M474.5 246v3M475.5 243v3M476.5 241v2M477.5 239v2M478.5 237v2M479.5 235v2M480.5 233v2M481.5 232v1M482.5 230v2M483.5 229v1M484.5 228v1M485.5 227v1M486.5 226v1M491.5 227v1M492.5 228v2M493.5 230v2M494.5 232v2M495.5 234v2M496.5 236v2M497.5 238v2M498.5 240v2M499.5 242v3M500.5 245v2M501.5 247v2M502.5 249v2M503.5 251v3M504.5 254v3M505.5 257v4M506.5 261v3M507.5 264v4M508.5 268v4M509.5 272v4M510.5 276v4M511.5 280v5M512.5 285v5M513.5 290v5M514.5 295v5M515.5 300v4M516.5 304v3M517.5 307v3M518.5 310v3M519.5 313v3M520.5 316v2M521.5 318v2M522.5 320v2M523.5 322v2M524.5 324v2M525.5 326v2M526.5 328v2M531.5 329v1M532.5 327v2M533.5 325v2M534.5 323v2M535.5 322v1M536.5 320v2M537.5 318v2M538.5 316v2M539.5 313v3M540.5 308v5M541.5 302v6M542.5 297v5M543.5 292v5M544.5 287v5M545.5 282v5M546.5 277v5M547.5 273v4M548.5 269v4M549.5 266v3M550.5 262v4M551.5 259v3M552.5 257v2M553.5 255v2M554.5 253v2M555.5 249v4M556.5 245v4M557.5 241v4M558.5 237v4M559.5 233v4M560.5 230v3M561.5 226v4M562.5 223v3M563.5 219v4M564.5 214v5M565.5 208v6M566.5 203v5M567.5 197v6M568.5 191v6M569.5 185v6M570.5 179v6M571.5 173v6M572.5 166v7M573.5 160v6M574.5 153v7M575.5 147v6M576.5 142v5M577.5 138v4M578.5 133v5M579.5 131v2M583.5 128v1M586.5 130v1M587.5 131v1M588.5 132v2M589.5 134v2M590.5 136v2M591.5 138v2M592.5 140v2M593.5 142v2M594.5 144v2M595.5 146v1M596.5 147v2M597.5 149v1M598.5 150v2M599.5 152v1M600.5 150v2M601.5 149v1M602.5 147v2M603.5 146v1M604.5 147v2M605.5 149v2M606.5 151v2M616.5 153v1M617.5 151v2M618.5 150v1M627.5 148v1M628.5 150v2M629.5 152v2M630.5 154v2M631.5 156v1M632.5 157v2M633.5 159v2M634.5 161v2M635.5 163v2M636.5 165v2M637.5 167v2M638.5 169v2M639.5 171v3M640.5 174v4M641.5 178v4M642.5 182v4M643.5 186v3M644.5 189v4M645.5 193v3M646.5 196v4M647.5 200v1M652.5 203v1M653.5 204v1M654.5 205v1M655.5 206v1M656.5 205v1M657.5 204v1M658.5 203v1M659.5 201v2M660.5 199v2M661.5 197v2M662.5 195v2M663.5 194v1M664.5 192v2M665.5 191v1M666.5 189v2M667.5 188v1M668.5 187v1M669.5 185v2M670.5 184v1M671.5 183v1M672.5 181v2M673.5 180v1M674.5 178v2M675.5 177v1M676.5 175v2M677.5 173v2M678.5 171v2M679.5 170v1M682.5 168v1M683.5 167v1M686.5 165v1M687.5 164v1M690.5 162v1M702.5 162v1M703.5 163v1M706.5 165v1M707.5 166v1M708.5 167v1M709.5 168v1M711.5 170v1M712.5 167v2M713.5 165v2M714.5 163v2M715.5 161v2M716.5 159v2M717.5 157v2M718.5 155v2M719.5 152v3M720.5 150v2M721.5 148v2M722.5 146v2M723.5 143v3M724.5 140v3M725.5 137v3M726.5 134v3M727.5 131v3M728.5 129v2M729.5 127v2M730.5 125v2M731.5 124v1M732.5 125v1M733.5 126v1M734.5 127v1M735.5 128v2M736.5 130v2M737.5 132v3M738.5 135v2M739.5 137v3M740.5 140v2M741.5 142v2M742.5 144v2M743.5 146v1M744.5 147v2M745.5 149v1M746.5 150v2M747.5 152v1M748.5 153v1M749.5 154v1M750.5 155v1M756.5 153v2M757.5 151v2M758.5 149v2M759.5 147v2M760.5 145v2M761.5 143v2M762.5 141v2M763.5 140v1M764.5 138v2M765.5 137v1M766.5 135v2M767.5 134v1M770.5 132v1M787.5 131v1M788.5 130v1M789.5 128v2M790.5 127v1M791.5 126v1M792.5 124v2M793.5 122v2M794.5 120v2M795.5 118v2M796.5 115v3M797.5 113v2M798.5 110v3M799.5 107v3M800.5 104v3M801.5 102v2M802.5 99v3M803.5 97v2M804.5 96v1M805.5 94v2M806.5 93v1M807.5 92v1M810.5 90v1M811.5 89v1M814.5 87v1M815.5 86v1M816.5 87v1M817.5 88v1M818.5 89v1M819.5 90v2M820.5 92v3M821.5 95v3M822.5 98v3M823.5 101v3M824.5 104v2M825.5 106v2M826.5 108v2M827.5 110v3M828.5 113v3M829.5 116v3M830.5 119v3M831.5 122v3M832.5 125v4M833.5 129v4M834.5 133v4M835.5 137v3M836.5 140v4M837.5 144v4M838.5 148v4M839.5 152v3M840.5 155v3M841.5 158v4M842.5 162v3M843.5 165v3M844.5 168v2M845.5 170v3M846.5 173v2M847.5 175v3M848.5 178v3M849.5 181v2M850.5 183v3M851.5 186v2M854.5 189v1M859.5 188v1M862.5 186v1M867.5 183v1M868.5 181v2M869.5 179v2M870.5 177v2M883.5 174v1M886.5 176v1M887.5 177v1M888.5 178v1M889.5 179v1M890.5 180v1M891.5 181v1M892.5 182v1M893.5 183v1M894.5 184v1M895.5 185v1M896.5 186v1M897.5 187v1M898.5 188v1M903.5 187v1M906.5 185v1M907.5 184v1M908.5 183v1M909.5 182v1M910.5 181v1M911.5 180v1M912.5 179v1M913.5 177v2M914.5 176v1M923.5 177v1M924.5 178v1M925.5 179v1M926.5 180v1M927.5 181v1M928.5 182v1M929.5 183v1M930.5 184v1M935.5 187v2M936.5 189v2M937.5 191v2M938.5 193v2M939.5 195v3M940.5 198v3M941.5 201v3M942.5 204v3M943.5 207v3M944.5 210v3M945.5 213v4M946.5 217v3M947.5 220v3M948.5 223v4M949.5 227v3M950.5 230v4M951.5 234v3M952.5 237v4M953.5 241v4M954.5 245v4M955.5 249v2M956.5 251v1M957.5 252v1M958.5 253v1M971.5 258v1M972.5 259v1M973.5 260v1M974.5 261v1M975.5 262v1M978.5 264v1M979.5 265v1M980.5 266v1M981.5 267v1M982.5 268v1M987.5 271v1M990.5 273v1M991.5 274v1M992.5 273v1M993.5 272v1M994.5 271v1M999.5 268v1M1000.5 266v2M1001.5 265v1M1002.5 263v2M1003.5 262v1M1004.5 260v2M1005.5 258v2M1006.5 256v2M1007.5 255v1M1008.5 254v1M1009.5 252v2M1010.5 251v1M1023.5 252v1M1024.5 253v2M1025.5 255v1M1026.5 256v2M1027.5 258v1M1028.5 259v1M1029.5 260v2M1030.5 262v1M1031.5 263v1M1032.5 264v1M1033.5 265v1M1034.5 266v1M1035.5 267v1M1036.5 268v1M1037.5 269v1M1038.5 270v1M1039.5 271v2M1040.5 273v4M1041.5 277v3M1042.5 280v4M1043.5 284v3M1044.5 287v2M1045.5 289v2M1046.5 291v2M1047.5 293v2M1048.5 295v1M1049.5 296v2M1050.5 298v1M1055.5 301v1M1056.5 302v1M1057.5 303v1M1058.5 304v1M1066.5 306v1M1067.5 307v1M1068.5 308v2M1069.5 310v1M1070.5 311v2M1071.5 313v1M1072.5 314v1M1073.5 315v2M1074.5 317v1M1075.5 318v1M1076.5 319v1M1077.5 320v1M1078.5 321v1M1079.5 322v1M1082.5 324v1M1083.5 325v1M1084.5 326v1M1085.5 327v2M1086.5 329v1M1087.5 330v1M1088.5 331v2M1089.5 333v1M1090.5 334v2M1091.5 336v2M1092.5 338v2M1093.5 340v2M1094.5 342v2M1095.5 344v1M1096.5 345v1M1097.5 346v1M1098.5 347v1M1112.5 352v1M1113.5 353v1M1114.5 354v1M1115.5 355v2M1116.5 357v2M1117.5 359v2M1118.5 361v2M1119.5 363v2M1120.5 365v2M1121.5 367v3M1122.5 370v2M1123.5 372v3M1124.5 375v3M1125.5 378v3M1126.5 381v3M1127.5 384v3M1128.5 387v3M1129.5 390v4M1130.5 394v3M1131.5 397v3M1132.5 400v3M1133.5 403v3M1134.5 406v3M1135.5 409v3M1136.5 412v2M1137.5 414v3M1138.5 417v2M1139.5 419v2M1140.5 421v1M1141.5 422v2M1142.5 424v1M1143.5 425v1M1144.5 426v1M1145.5 427v1M1146.5 428v1M1158.5 429v1M1175.5 434v1M1176.5 435v2M1177.5 437v2M1178.5 439v2M1179.5 441v2M1180.5 443v3M1181.5 446v3M1182.5 449v3M1183.5 452v3M1184.5 455v4M1185.5 459v4M1186.5 463v4M1187.5 467v4M1188.5 471v4M1189.5 475v4M1190.5 479v4M1191.5 483v3M1192.5 486v4M1193.5 490v4M1194.5 494v4M1195.5 498v2M1196.5 500v2M1197.5 502v2M1198.5 504v2M1199.5 506v1M1200.5 505v1M1201.5 503v2M1202.5 502v1M1203.5 501v1M1204.5 499v2M1205.5 497v2M1206.5 495v2M1207.5 493v2M1208.5 490v3M1209.5 486v4M1210.5 483v3M1211.5 480v3M1212.5 476v4M1213.5 473v3M1214.5 469v4M1215.5 466v3M1216.5 464v2M1217.5 461v3M1218.5 459v2M1219.5 457v2M1220.5 455v2M1221.5 454v1M1222.5 452v2M1223.5 451v1M1224.5 449v2M1225.5 448v1M1226.5 446v2M1232.5 446v2M1233.5 448v2M1234.5 450v2M1235.5 452v3M1236.5 455v5M1237.5 460v4M1238.5 464v5M1239.5 469v4M1240.5 473v3M1241.5 476v4M1242.5 480v3M1243.5 483v3M1244.5 486v4M1245.5 490v4M1246.5 494v4M1247.5 498v4M1248.5 502v5M1249.5 507v4M1250.5 511v5M1251.5 516v4M1252.5 520v4M1253.5 524v3M1254.5 527v4M1255.5 531v2M1256.5 533v1M1257.5 534v2M1258.5 536v1M1259.5 537v1M1260.5 538v1M1261.5 539v1M1262.5 540v1M1263.5 541v1M1266.5 543v1M1267.5 544v1" stroke="#ffa500" stroke-width="1" fill="none" shape-rendering="crispEdges"/>
</g>
<g shape-rendering="crispEdges">
<rect x="3" y="539" width="1593" height="1" fill="#c0c0c0"/>
<rect x="3" y="43" width="1594" height="2" fill="#ff0000"/>
<rect x="3" y="152" width="1594" height="2" fill="#ff0000"/>
<rect x="3" y="258" width="1594" height="2" fill="#ff0000"/>
<rect x="3" y="383" width="1594" height="2" fill="#00ff00"/>
<rect x="3" y="512" width="1592" height="2" fill="#0000ff"/>
<rect x="1596" y="510" width="2" height="1" fill="#000"/>
<rect x="2" y="256" width="6" height="6" fill="#ff0000"/>
<rect x="4" y="258" width="2" height="2" fill="#fff"/>
<rect x="1589" y="256" width="6" height="6" fill="#ff0000"/>
<rect x="1591" y="258" width="2" height="2" fill="#fff"/>
<rect x="2" y="381" width="6" height="6" fill="#00ff00"/>
<rect x="4" y="383" width="2" height="2" fill="#fff"/>
<rect x="1589" y="381" width="6" height="6" fill="#00ff00"/>
<rect x="1591" y="383" width="2" height="2" fill="#fff"/>
</g>
<g shape-rendering="crispEdges">
<rect x="1597" y="38" width="38" height="11" fill="#ff0000"/>
<rect x="1597" y="147" width="38" height="11" fill="#ff0000"/>
<rect x="1597" y="253" width="38" height="11" fill="#ff0000"/>
<rect x="1597" y="378" width="38" height="11" fill="#00ff00"/>
<rect x="1597" y="507" width="38" height="11" fill="#0000ff"/>
<rect x="1597" y="534" width="38" height="11" fill="#000000"/>
</g>
<text x="1601" y="47.2" font-size="10.0" fill="#fff" text-anchor="start" textLength="32.5" lengthAdjust="spacingAndGlyphs" stroke="#fff" stroke-width="0.3">7.20193</text>
<text x="1601" y="156.2" font-size="10.0" fill="#fff" text-anchor="start" textLength="32.5" lengthAdjust="spacingAndGlyphs" stroke="#fff" stroke-width="0.3">7.10011</text>
<text x="1601" y="262.2" font-size="10.0" fill="#fff" text-anchor="start" textLength="32.5" lengthAdjust="spacingAndGlyphs" stroke="#fff" stroke-width="0.3">7.00029</text>
<text x="1601" y="387.2" font-size="10.0" fill="#fff" text-anchor="start" textLength="32.5" lengthAdjust="spacingAndGlyphs" stroke="#fff" stroke-width="0.3">6.88250</text>
<text x="1601" y="516.2" font-size="10.0" fill="#fff" text-anchor="start" textLength="32.5" lengthAdjust="spacingAndGlyphs" stroke="#fff" stroke-width="0.3">6.76171</text>
<text x="1601" y="543" font-size="10.0" fill="#fff" text-anchor="start" textLength="32.5" lengthAdjust="spacingAndGlyphs" stroke="#fff" stroke-width="0.3">6.73697</text>
<path d="M6 30 L13 30 L9.5 34 Z" fill="#000"/>
<text x="18" y="36" font-size="10.0" fill="#000" text-anchor="start" textLength="65.5" lengthAdjust="spacingAndGlyphs" stroke="#000" stroke-width="0.25">USDCNH,Daily</text>
<text x="89.9" y="36" font-size="10.0" fill="#000" text-anchor="start" textLength="32.3" lengthAdjust="spacingAndGlyphs" stroke="#000" stroke-width="0.25">6.73923</text>
<text x="125.7" y="36" font-size="10.0" fill="#000" text-anchor="start" textLength="32.3" lengthAdjust="spacingAndGlyphs" stroke="#000" stroke-width="0.25">6.73981</text>
<text x="161.5" y="36" font-size="10.0" fill="#000" text-anchor="start" textLength="32.3" lengthAdjust="spacingAndGlyphs" stroke="#000" stroke-width="0.25">6.73401</text>
<text x="197.8" y="36" font-size="10.0" fill="#000" text-anchor="start" textLength="32.3" lengthAdjust="spacingAndGlyphs" stroke="#000" stroke-width="0.25">6.73697</text>
<path d="M1270.8 25 L1280.2 25 L1275.5 29.8 Z" fill="#c0c0c0"/>
<text x="7" y="594" font-size="10.0" fill="#000" text-anchor="start" textLength="68" lengthAdjust="spacingAndGlyphs" stroke="#000" stroke-width="0.25">RSI(14) 36.7078</text>
<g shape-rendering="crispEdges">
<line x1="4" x2="1595" y1="612.5" y2="612.5" stroke="#c0c0c0" stroke-width="1" stroke-dasharray="3,3"/>
<line x1="4" x2="1595" y1="652.5" y2="652.5" stroke="#c0c0c0" stroke-width="1" stroke-dasharray="3,3"/>
<rect x="1596" y="683" width="1" height="1" fill="#000"/>
</g>
<text x="1598.5" y="592" font-size="10.0" fill="#000" text-anchor="start" textLength="14.8" lengthAdjust="spacingAndGlyphs" stroke="#000" stroke-width="0.25">100</text>
<text x="1598.5" y="616" font-size="10.0" fill="#000" text-anchor="start" textLength="9.7" lengthAdjust="spacingAndGlyphs" stroke="#000" stroke-width="0.25">70</text>
<text x="1598.5" y="656" font-size="10.0" fill="#000" text-anchor="start" textLength="9.7" lengthAdjust="spacingAndGlyphs" stroke="#000" stroke-width="0.25">30</text>
<text x="1598.5" y="680" font-size="10.0" fill="#000" text-anchor="start" textLength="5" lengthAdjust="spacingAndGlyphs" stroke="#000" stroke-width="0.25">0</text>
<g clip-path="url(#cr)">
<path d="M571 613.5h7M578 614.5h2M410 616.5h2M471 616.5h2M399 617.5h7M408 617.5h2M473 617.5h2M406 618.5h2M475 618.5h5M387 619.5h2M543 619.5h2M586 619.5h2M718 619.5h3M715 620.5h3M721 620.5h2M430 621.5h2M550 621.5h2M787 621.5h3M391 622.5h2M427 622.5h3M483 622.5h2M547 622.5h3M790 622.5h10M393 623.5h2M485 623.5h2M489 623.5h3M583 623.5h2M763 623.5h3M810 623.5h3M487 624.5h2M729 624.5h3M766 624.5h2M807 624.5h3M813 624.5h2M465 625.5h2M593 625.5h2M596 625.5h2M619 625.5h3M679 625.5h3M727 625.5h2M768 625.5h2M451 626.5h5M463 626.5h2M591 626.5h2M622 626.5h4M682 626.5h2M626 627.5h2M163 628.5h3M422 628.5h2M448 628.5h2M691 628.5h9M757 628.5h2M166 629.5h2M204 629.5h2M419 629.5h3M663 629.5h3M689 629.5h2M700 629.5h2M755 629.5h2M375 630.5h2M445 630.5h2M661 630.5h2M666 630.5h10M687 630.5h2M748 630.5h2M155 631.5h2M377 631.5h2M442 631.5h3M659 631.5h2M703 631.5h3M744 631.5h2M752 631.5h2M775 631.5h2M157 632.5h2M208 632.5h2M379 632.5h5M439 632.5h3M706 632.5h2M777 632.5h2M1004 632.5h2M1215 632.5h7M152 633.5h2M183 633.5h3M190 633.5h2M219 633.5h2M635 633.5h2M708 633.5h2M736 633.5h2M906 633.5h6M1222 633.5h2M150 634.5h2M186 634.5h4M221 634.5h2M225 634.5h3M633 634.5h2M637 634.5h2M651 634.5h2M710 634.5h2M740 634.5h2M903 634.5h3M912 634.5h2M147 635.5h3M212 635.5h2M223 635.5h2M267 635.5h3M499 635.5h2M535 635.5h3M631 635.5h2M639 635.5h3M649 635.5h2M653 635.5h2M827 635.5h3M901 635.5h2M1230 635.5h2M270 636.5h3M501 636.5h2M538 636.5h2M642 636.5h7M825 636.5h2M830 636.5h2M899 636.5h2M1022 636.5h2M1228 636.5h2M131 637.5h5M235 637.5h2M273 637.5h2M823 637.5h2M866 637.5h8M878 637.5h2M916 637.5h2M175 638.5h5M237 638.5h2M251 638.5h7M862 638.5h4M874 638.5h4M880 638.5h2M39 639.5h3M258 639.5h6M276 639.5h2M859 639.5h3M886 639.5h2M919 639.5h3M926 639.5h4M934 639.5h2M998 639.5h2M1011 639.5h7M42 640.5h4M54 640.5h2M240 640.5h2M282 640.5h4M368 640.5h2M883 640.5h3M922 640.5h4M930 640.5h4M995 640.5h3M1018 640.5h2M1051 640.5h5M19 641.5h3M46 641.5h8M56 641.5h2M75 641.5h6M279 641.5h3M286 641.5h2M856 641.5h2M1031 641.5h2M1056 641.5h2M22 642.5h4M61 642.5h2M64 642.5h2M81 642.5h2M243 642.5h5M1033 642.5h2M26 643.5h2M59 643.5h2M123 643.5h5M1027 643.5h3M1035 643.5h3M1203 643.5h2M67 644.5h2M84 644.5h2M139 644.5h5M314 644.5h2M519 644.5h3M1038 644.5h2M1071 644.5h3M69 645.5h2M522 645.5h6M835 645.5h6M891 645.5h5M1074 645.5h7M1102 645.5h2M1263 645.5h3M87 646.5h2M841 646.5h2M1081 646.5h2M1099 646.5h3M1206 646.5h2M1243 646.5h3M1266 646.5h2M89 647.5h2M93 647.5h2M310 647.5h2M1063 647.5h2M1246 647.5h2M1260 647.5h2M91 648.5h2M307 648.5h3M1065 648.5h2M1110 648.5h2M1159 648.5h2M1255 648.5h5M295 649.5h3M305 649.5h2M1107 649.5h3M298 650.5h7M959 650.5h2M979 650.5h9M1171 650.5h5M115 651.5h5M319 651.5h5M957 651.5h2M961 651.5h2M977 651.5h2M988 651.5h2M1090 651.5h4M1163 651.5h3M1169 651.5h2M955 652.5h2M974 652.5h3M990 652.5h2M1087 652.5h3M1094 652.5h2M1166 652.5h3M971 653.5h3M1043 653.5h2M939 654.5h3M1115 654.5h3M1143 654.5h3M103 655.5h3M942 655.5h4M1118 655.5h2M1146 655.5h3M1196 655.5h2M106 656.5h2M327 656.5h2M946 656.5h3M1120 656.5h2M1149 656.5h2M329 657.5h2M949 657.5h2M1151 657.5h5M331 658.5h3M1123 658.5h3M1192 658.5h2M110 659.5h2M334 659.5h2M347 659.5h2M1126 659.5h3M349 660.5h2M1129 660.5h2M351 661.5h2M1131 661.5h2M353 662.5h2M360 662.5h2M1133 662.5h2M1138 662.5h2M1184 662.5h2M339 663.5h3M355 663.5h5M1135 663.5h3M342 664.5h2M3.5 628v1M4.5 626v2M5.5 625v1M6.5 623v2M7.5 622v1M8.5 623v1M9.5 624v2M10.5 626v1M11.5 627v2M12.5 629v2M13.5 631v2M14.5 633v2M15.5 635v1M16.5 636v2M17.5 638v1M18.5 639v2M28.5 642v1M29.5 641v1M30.5 640v1M31.5 639v1M32.5 638v1M33.5 637v1M34.5 636v1M35.5 635v1M36.5 636v1M37.5 637v1M38.5 638v1M58.5 642v1M63.5 641v1M66.5 643v1M71.5 646v1M72.5 645v1M73.5 643v2M74.5 642v1M83.5 643v1M86.5 645v1M95.5 646v1M96.5 647v1M97.5 648v1M98.5 649v1M99.5 650v1M100.5 651v1M101.5 652v2M102.5 654v1M108.5 657v1M109.5 658v1M111.5 660v1M112.5 657v2M113.5 655v2M114.5 653v2M115.5 652v1M119.5 650v1M120.5 648v2M121.5 646v2M122.5 644v2M128.5 641v2M129.5 640v1M130.5 638v2M136.5 638v2M137.5 640v2M138.5 642v2M143.5 643v1M144.5 641v2M145.5 639v2M146.5 637v2M147.5 636v1M154.5 632v1M159.5 633v1M160.5 632v1M161.5 630v2M162.5 629v1M168.5 630v1M169.5 631v2M170.5 633v1M171.5 634v1M172.5 635v1M173.5 636v1M174.5 637v1M180.5 637v1M181.5 635v2M182.5 634v1M192.5 631v2M193.5 630v1M194.5 628v2M195.5 626v2M196.5 624v2M197.5 622v2M198.5 620v2M199.5 618v2M200.5 620v2M201.5 622v3M202.5 625v2M203.5 627v2M206.5 630v1M207.5 631v1M210.5 633v1M211.5 634v1M214.5 636v1M215.5 637v1M216.5 636v1M217.5 635v1M218.5 634v1M227.5 633v1M228.5 635v4M229.5 639v4M230.5 643v4M231.5 647v2M232.5 644v3M233.5 642v2M234.5 639v3M235.5 638v1M239.5 639v1M242.5 641v1M248.5 641v1M249.5 640v1M250.5 639v1M264.5 638v1M265.5 637v1M266.5 636v1M275.5 638v1M278.5 640v1M288.5 642v1M289.5 643v1M290.5 644v1M291.5 645v1M292.5 646v1M293.5 647v1M294.5 648v1M312.5 646v1M313.5 645v1M315.5 643v1M316.5 645v2M317.5 647v2M318.5 649v2M324.5 652v1M325.5 653v2M326.5 655v1M336.5 660v1M337.5 661v1M338.5 662v1M344.5 663v1M345.5 661v2M346.5 660v1M362.5 661v1M363.5 658v3M364.5 653v5M365.5 649v4M366.5 644v5M367.5 641v3M370.5 639v1M371.5 637v2M372.5 635v2M373.5 633v2M374.5 631v2M383.5 631v1M384.5 627v4M385.5 624v3M386.5 620v4M387.5 618v1M389.5 620v1M390.5 621v1M395.5 624v1M396.5 622v2M397.5 620v2M398.5 618v2M411.5 615v1M412.5 617v2M413.5 619v2M414.5 621v2M415.5 623v1M416.5 624v2M417.5 626v1M418.5 627v2M424.5 626v2M425.5 625v1M426.5 623v2M432.5 622v2M433.5 624v1M434.5 625v2M435.5 627v1M436.5 628v1M437.5 629v2M438.5 631v1M447.5 629v1M450.5 627v1M456.5 627v1M457.5 628v1M458.5 629v1M459.5 630v1M460.5 629v1M461.5 628v1M462.5 627v1M467.5 623v2M468.5 621v2M469.5 619v2M470.5 617v2M480.5 619v1M481.5 620v1M482.5 621v1M491.5 622v1M492.5 624v2M493.5 626v2M494.5 628v2M495.5 630v1M496.5 631v1M497.5 632v2M498.5 634v1M503.5 637v1M504.5 638v1M505.5 639v1M506.5 640v1M507.5 641v1M508.5 642v1M509.5 643v2M510.5 645v1M511.5 646v1M512.5 647v1M513.5 648v2M514.5 650v1M515.5 651v1M516.5 649v2M517.5 647v2M518.5 645v2M528.5 644v1M529.5 642v2M530.5 641v1M531.5 640v1M532.5 639v1M533.5 637v2M534.5 636v1M539.5 634v2M540.5 630v4M541.5 625v5M542.5 621v4M543.5 618v1M543.5 620v1M545.5 620v1M546.5 621v1M551.5 622v1M552.5 623v2M553.5 625v2M554.5 627v2M555.5 629v2M556.5 627v2M557.5 625v2M558.5 623v2M559.5 622v1M560.5 620v2M561.5 619v1M562.5 617v2M563.5 616v1M564.5 614v2M565.5 612v2M566.5 610v2M567.5 609v1M568.5 610v1M569.5 611v1M570.5 612v1M579.5 615v1M580.5 616v2M581.5 618v3M582.5 621v2M583.5 624v1M584.5 622v1M585.5 621v1M586.5 620v1M587.5 618v1M588.5 620v2M589.5 622v2M590.5 624v2M595.5 624v1M598.5 626v1M599.5 627v1M600.5 626v1M601.5 625v1M602.5 624v1M603.5 623v1M604.5 624v2M605.5 626v1M606.5 627v2M607.5 629v1M608.5 628v1M609.5 627v1M610.5 626v1M611.5 625v1M612.5 626v1M613.5 627v1M614.5 628v1M615.5 629v1M616.5 628v1M617.5 627v1M618.5 626v1M627.5 628v1M628.5 629v2M629.5 631v2M630.5 633v2M655.5 636v1M656.5 635v1M657.5 633v2M658.5 632v1M676.5 629v1M677.5 627v2M678.5 626v1M684.5 627v1M685.5 628v1M686.5 629v1M702.5 630v1M711.5 635v1M712.5 630v4M713.5 626v4M714.5 622v4M715.5 621v1M723.5 621v1M724.5 622v1M725.5 623v1M726.5 624v1M731.5 623v1M732.5 625v2M733.5 627v2M734.5 629v2M735.5 631v2M738.5 634v1M739.5 635v1M742.5 633v1M743.5 632v1M746.5 630v1M747.5 629v1M750.5 631v1M751.5 632v1M754.5 630v1M759.5 627v1M760.5 626v1M761.5 625v1M762.5 624v1M770.5 626v1M771.5 627v1M772.5 628v1M773.5 629v1M774.5 630v1M779.5 633v1M780.5 631v2M781.5 629v2M782.5 627v2M783.5 626v1M784.5 625v1M785.5 623v2M786.5 622v1M799.5 621v1M800.5 619v2M801.5 616v3M802.5 614v2M803.5 612v2M804.5 614v3M805.5 617v3M806.5 620v3M807.5 623v1M815.5 625v1M816.5 626v2M817.5 628v1M818.5 629v2M819.5 631v1M820.5 632v2M821.5 634v1M822.5 635v2M831.5 637v1M832.5 638v2M833.5 640v2M834.5 642v2M835.5 644v1M843.5 647v1M844.5 646v1M845.5 644v2M846.5 643v1M847.5 642v1M848.5 643v1M849.5 644v2M850.5 646v1M851.5 647v1M852.5 646v1M853.5 644v2M854.5 643v1M855.5 642v1M858.5 640v1M882.5 639v1M888.5 640v2M889.5 642v1M890.5 643v2M895.5 644v1M896.5 642v2M897.5 640v2M898.5 638v2M899.5 637v1M914.5 635v1M915.5 636v1M918.5 638v1M935.5 640v1M936.5 641v4M937.5 645v4M938.5 649v4M939.5 653v1M951.5 658v1M952.5 656v2M953.5 655v1M954.5 653v2M963.5 652v1M964.5 651v1M965.5 649v2M966.5 648v1M967.5 647v1M968.5 648v2M969.5 650v1M970.5 651v2M991.5 653v1M992.5 649v3M993.5 645v4M994.5 642v3M995.5 641v1M999.5 638v1M1000.5 636v2M1001.5 634v2M1002.5 632v2M1003.5 631v1M1006.5 633v1M1007.5 634v1M1008.5 635v1M1009.5 636v2M1010.5 638v1M1020.5 639v1M1021.5 637v2M1023.5 635v1M1024.5 637v2M1025.5 639v2M1026.5 641v2M1027.5 644v1M1030.5 642v1M1039.5 645v1M1040.5 646v2M1041.5 648v3M1042.5 651v2M1043.5 654v1M1044.5 652v1M1045.5 651v1M1046.5 649v2M1047.5 647v2M1048.5 645v2M1049.5 643v2M1050.5 641v2M1058.5 642v1M1059.5 643v1M1060.5 644v1M1061.5 645v1M1062.5 646v1M1067.5 649v1M1068.5 648v1M1069.5 646v2M1070.5 645v1M1083.5 647v1M1084.5 648v1M1085.5 649v2M1086.5 651v1M1096.5 650v2M1097.5 649v1M1098.5 647v2M1104.5 646v1M1105.5 647v1M1106.5 648v1M1112.5 649v2M1113.5 651v1M1114.5 652v2M1122.5 657v1M1139.5 661v1M1140.5 659v2M1141.5 657v2M1142.5 655v2M1155.5 656v1M1156.5 654v2M1157.5 651v3M1158.5 649v2M1159.5 647v1M1161.5 649v1M1162.5 650v1M1176.5 651v2M1177.5 653v1M1178.5 654v2M1179.5 656v1M1180.5 657v1M1181.5 658v2M1182.5 660v1M1183.5 661v1M1186.5 663v1M1187.5 664v1M1188.5 663v1M1189.5 661v2M1190.5 660v1M1191.5 659v1M1194.5 657v1M1195.5 656v1M1198.5 654v1M1199.5 652v2M1200.5 649v3M1201.5 647v2M1202.5 644v3M1203.5 642v1M1205.5 644v2M1207.5 647v1M1208.5 643v3M1209.5 641v2M1210.5 638v3M1211.5 636v2M1212.5 635v1M1213.5 634v1M1214.5 633v1M1224.5 634v1M1225.5 635v1M1226.5 636v1M1227.5 637v1M1231.5 634v1M1232.5 636v2M1233.5 638v2M1234.5 640v2M1235.5 642v2M1236.5 644v2M1237.5 646v2M1238.5 648v2M1239.5 650v1M1240.5 649v1M1241.5 648v1M1242.5 647v1M1248.5 648v1M1249.5 649v2M1250.5 651v1M1251.5 652v1M1252.5 651v1M1253.5 650v1M1254.5 649v1M1262.5 646v1" stroke="#1e90ff" stroke-width="1" fill="none" shape-rendering="crispEdges"/>
</g>
<text x="7" y="698" font-size="10.0" fill="#000" text-anchor="start" textLength="65.2" lengthAdjust="spacingAndGlyphs" stroke="#000" stroke-width="0.25">MACD(12,26,9)</text>
<text x="76.2" y="698" font-size="10.0" fill="#000" text-anchor="start" textLength="40.4" lengthAdjust="spacingAndGlyphs" stroke="#000" stroke-width="0.25">-0.028519</text>
<text x="120.5" y="698" font-size="10.0" fill="#000" text-anchor="start" textLength="40.4" lengthAdjust="spacingAndGlyphs" stroke="#000" stroke-width="0.25">-0.024216</text>
<g shape-rendering="crispEdges">
<rect x="1596" y="736" width="1" height="1" fill="#000"/>
<rect x="1596" y="686" width="1" height="1" fill="#000"/>
<rect x="1596" y="786" width="1" height="1" fill="#000"/>
</g>
<text x="1598.5" y="695" font-size="10.0" fill="#000" text-anchor="start" textLength="39.5" lengthAdjust="spacingAndGlyphs" stroke="#000" stroke-width="0.25">0.042275</text>
<text x="1598.5" y="740" font-size="10.0" fill="#000" text-anchor="start" textLength="18.2" lengthAdjust="spacingAndGlyphs" stroke="#000" stroke-width="0.25">0.00</text>
<text x="1598.5" y="783" font-size="10.0" fill="#000" text-anchor="start" textLength="42.5" lengthAdjust="spacingAndGlyphs" stroke="#000" stroke-width="0.25">-0.041485</text>
<g clip-path="url(#cd)">
<g shape-rendering="crispEdges">
<rect x="3" y="725" width="1" height="12" fill="#c0c0c0"/>
<rect x="7" y="725" width="1" height="12" fill="#c0c0c0"/>
<rect x="11" y="725" width="1" height="12" fill="#c0c0c0"/>
<rect x="15" y="729" width="1" height="8" fill="#c0c0c0"/>
<rect x="19" y="732" width="1" height="5" fill="#c0c0c0"/>
<rect x="23" y="736" width="1" height="1" fill="#c0c0c0"/>
<rect x="27" y="736" width="1" height="5" fill="#c0c0c0"/>
<rect x="31" y="736" width="1" height="7" fill="#c0c0c0"/>
<rect x="35" y="736" width="1" height="7" fill="#c0c0c0"/>
<rect x="39" y="736" width="1" height="8" fill="#c0c0c0"/>
<rect x="43" y="736" width="1" height="10" fill="#c0c0c0"/>
<rect x="47" y="736" width="1" height="11" fill="#c0c0c0"/>
<rect x="51" y="736" width="1" height="12" fill="#c0c0c0"/>
<rect x="55" y="736" width="1" height="13" fill="#c0c0c0"/>
<rect x="59" y="736" width="1" height="14" fill="#c0c0c0"/>
<rect x="63" y="736" width="1" height="14" fill="#c0c0c0"/>
<rect x="67" y="736" width="1" height="16" fill="#c0c0c0"/>
<rect x="71" y="736" width="1" height="17" fill="#c0c0c0"/>
<rect x="75" y="736" width="1" height="17" fill="#c0c0c0"/>
<rect x="79" y="736" width="1" height="16" fill="#c0c0c0"/>
<rect x="83" y="736" width="1" height="16" fill="#c0c0c0"/>
<rect x="87" y="736" width="1" height="18" fill="#c0c0c0"/>
<rect x="91" y="736" width="1" height="19" fill="#c0c0c0"/>
<rect x="95" y="736" width="1" height="19" fill="#c0c0c0"/>
<rect x="99" y="736" width="1" height="21" fill="#c0c0c0"/>
<rect x="103" y="736" width="1" height="24" fill="#c0c0c0"/>
<rect x="107" y="736" width="1" height="27" fill="#c0c0c0"/>
<rect x="111" y="736" width="1" height="31" fill="#c0c0c0"/>
<rect x="115" y="736" width="1" height="32" fill="#c0c0c0"/>
<rect x="119" y="736" width="1" height="32" fill="#c0c0c0"/>
<rect x="123" y="736" width="1" height="31" fill="#c0c0c0"/>
<rect x="127" y="736" width="1" height="29" fill="#c0c0c0"/>
<rect x="131" y="736" width="1" height="27" fill="#c0c0c0"/>
<rect x="135" y="736" width="1" height="24" fill="#c0c0c0"/>
<rect x="139" y="736" width="1" height="24" fill="#c0c0c0"/>
<rect x="143" y="736" width="1" height="24" fill="#c0c0c0"/>
<rect x="147" y="736" width="1" height="21" fill="#c0c0c0"/>
<rect x="151" y="736" width="1" height="17" fill="#c0c0c0"/>
<rect x="155" y="736" width="1" height="14" fill="#c0c0c0"/>
<rect x="159" y="736" width="1" height="12" fill="#c0c0c0"/>
<rect x="163" y="736" width="1" height="9" fill="#c0c0c0"/>
<rect x="167" y="736" width="1" height="7" fill="#c0c0c0"/>
<rect x="171" y="736" width="1" height="6" fill="#c0c0c0"/>
<rect x="175" y="736" width="1" height="7" fill="#c0c0c0"/>
<rect x="179" y="736" width="1" height="7" fill="#c0c0c0"/>
<rect x="183" y="736" width="1" height="6" fill="#c0c0c0"/>
<rect x="187" y="736" width="1" height="5" fill="#c0c0c0"/>
<rect x="191" y="736" width="1" height="5" fill="#c0c0c0"/>
<rect x="195" y="736" width="1" height="3" fill="#c0c0c0"/>
<rect x="199" y="735" width="1" height="2" fill="#c0c0c0"/>
<rect x="203" y="735" width="1" height="2" fill="#c0c0c0"/>
<rect x="207" y="734" width="1" height="3" fill="#c0c0c0"/>
<rect x="211" y="735" width="1" height="2" fill="#c0c0c0"/>
<rect x="215" y="736" width="1" height="1" fill="#c0c0c0"/>
<rect x="219" y="736" width="1" height="1" fill="#c0c0c0"/>
<rect x="223" y="736" width="1" height="1" fill="#c0c0c0"/>
<rect x="227" y="736" width="1" height="1" fill="#c0c0c0"/>
<rect x="231" y="736" width="1" height="6" fill="#c0c0c0"/>
<rect x="235" y="736" width="1" height="7" fill="#c0c0c0"/>
<rect x="239" y="736" width="1" height="9" fill="#c0c0c0"/>
<rect x="243" y="736" width="1" height="11" fill="#c0c0c0"/>
<rect x="247" y="736" width="1" height="12" fill="#c0c0c0"/>
<rect x="251" y="736" width="1" height="13" fill="#c0c0c0"/>
<rect x="255" y="736" width="1" height="12" fill="#c0c0c0"/>
<rect x="259" y="736" width="1" height="13" fill="#c0c0c0"/>
<rect x="263" y="736" width="1" height="12" fill="#c0c0c0"/>
<rect x="267" y="736" width="1" height="12" fill="#c0c0c0"/>
<rect x="271" y="736" width="1" height="11" fill="#c0c0c0"/>
<rect x="275" y="736" width="1" height="11" fill="#c0c0c0"/>
<rect x="279" y="736" width="1" height="11" fill="#c0c0c0"/>
<rect x="283" y="736" width="1" height="11" fill="#c0c0c0"/>
<rect x="287" y="736" width="1" height="11" fill="#c0c0c0"/>
<rect x="291" y="736" width="1" height="13" fill="#c0c0c0"/>
<rect x="295" y="736" width="1" height="15" fill="#c0c0c0"/>
<rect x="299" y="736" width="1" height="17" fill="#c0c0c0"/>
<rect x="303" y="736" width="1" height="18" fill="#c0c0c0"/>
<rect x="307" y="736" width="1" height="19" fill="#c0c0c0"/>
<rect x="311" y="736" width="1" height="19" fill="#c0c0c0"/>
<rect x="315" y="736" width="1" height="18" fill="#c0c0c0"/>
<rect x="319" y="736" width="1" height="20" fill="#c0c0c0"/>
<rect x="323" y="736" width="1" height="21" fill="#c0c0c0"/>
<rect x="327" y="736" width="1" height="23" fill="#c0c0c0"/>
<rect x="331" y="736" width="1" height="26" fill="#c0c0c0"/>
<rect x="335" y="736" width="1" height="28" fill="#c0c0c0"/>
<rect x="339" y="736" width="1" height="32" fill="#c0c0c0"/>
<rect x="343" y="736" width="1" height="35" fill="#c0c0c0"/>
<rect x="347" y="736" width="1" height="36" fill="#c0c0c0"/>
<rect x="351" y="736" width="1" height="38" fill="#c0c0c0"/>
<rect x="355" y="736" width="1" height="40" fill="#c0c0c0"/>
<rect x="359" y="736" width="1" height="41" fill="#c0c0c0"/>
<rect x="363" y="736" width="1" height="41" fill="#c0c0c0"/>
<rect x="367" y="736" width="1" height="38" fill="#c0c0c0"/>
<rect x="371" y="736" width="1" height="33" fill="#c0c0c0"/>
<rect x="375" y="736" width="1" height="27" fill="#c0c0c0"/>
<rect x="379" y="736" width="1" height="23" fill="#c0c0c0"/>
<rect x="383" y="736" width="1" height="19" fill="#c0c0c0"/>
<rect x="387" y="736" width="1" height="11" fill="#c0c0c0"/>
<rect x="391" y="736" width="1" height="5" fill="#c0c0c0"/>
<rect x="395" y="736" width="1" height="2" fill="#c0c0c0"/>
<rect x="399" y="733" width="1" height="4" fill="#c0c0c0"/>
<rect x="403" y="728" width="1" height="9" fill="#c0c0c0"/>
<rect x="407" y="725" width="1" height="12" fill="#c0c0c0"/>
<rect x="411" y="719" width="1" height="18" fill="#c0c0c0"/>
<rect x="415" y="719" width="1" height="18" fill="#c0c0c0"/>
<rect x="419" y="721" width="1" height="16" fill="#c0c0c0"/>
<rect x="423" y="722" width="1" height="15" fill="#c0c0c0"/>
<rect x="427" y="719" width="1" height="18" fill="#c0c0c0"/>
<rect x="431" y="718" width="1" height="19" fill="#c0c0c0"/>
<rect x="435" y="719" width="1" height="18" fill="#c0c0c0"/>
<rect x="439" y="722" width="1" height="15" fill="#c0c0c0"/>
<rect x="443" y="724" width="1" height="13" fill="#c0c0c0"/>
<rect x="447" y="725" width="1" height="12" fill="#c0c0c0"/>
<rect x="451" y="725" width="1" height="12" fill="#c0c0c0"/>
<rect x="455" y="725" width="1" height="12" fill="#c0c0c0"/>
<rect x="459" y="726" width="1" height="11" fill="#c0c0c0"/>
<rect x="463" y="725" width="1" height="12" fill="#c0c0c0"/>
<rect x="467" y="724" width="1" height="13" fill="#c0c0c0"/>
<rect x="471" y="719" width="1" height="18" fill="#c0c0c0"/>
<rect x="475" y="718" width="1" height="19" fill="#c0c0c0"/>
<rect x="479" y="715" width="1" height="22" fill="#c0c0c0"/>
<rect x="483" y="715" width="1" height="22" fill="#c0c0c0"/>
<rect x="487" y="715" width="1" height="22" fill="#c0c0c0"/>
<rect x="491" y="715" width="1" height="22" fill="#c0c0c0"/>
<rect x="495" y="718" width="1" height="19" fill="#c0c0c0"/>
<rect x="499" y="723" width="1" height="14" fill="#c0c0c0"/>
<rect x="503" y="726" width="1" height="11" fill="#c0c0c0"/>
<rect x="507" y="730" width="1" height="7" fill="#c0c0c0"/>
<rect x="511" y="736" width="1" height="1" fill="#c0c0c0"/>
<rect x="515" y="736" width="1" height="7" fill="#c0c0c0"/>
<rect x="519" y="736" width="1" height="11" fill="#c0c0c0"/>
<rect x="523" y="736" width="1" height="14" fill="#c0c0c0"/>
<rect x="527" y="736" width="1" height="16" fill="#c0c0c0"/>
<rect x="531" y="736" width="1" height="16" fill="#c0c0c0"/>
<rect x="535" y="736" width="1" height="15" fill="#c0c0c0"/>
<rect x="539" y="736" width="1" height="13" fill="#c0c0c0"/>
<rect x="543" y="736" width="1" height="5" fill="#c0c0c0"/>
<rect x="547" y="736" width="1" height="1" fill="#c0c0c0"/>
<rect x="551" y="732" width="1" height="5" fill="#c0c0c0"/>
<rect x="555" y="732" width="1" height="5" fill="#c0c0c0"/>
<rect x="559" y="728" width="1" height="9" fill="#c0c0c0"/>
<rect x="563" y="721" width="1" height="16" fill="#c0c0c0"/>
<rect x="567" y="708" width="1" height="29" fill="#c0c0c0"/>
<rect x="571" y="701" width="1" height="36" fill="#c0c0c0"/>
<rect x="575" y="696" width="1" height="41" fill="#c0c0c0"/>
<rect x="579" y="693" width="1" height="44" fill="#c0c0c0"/>
<rect x="583" y="694" width="1" height="43" fill="#c0c0c0"/>
<rect x="587" y="691" width="1" height="46" fill="#c0c0c0"/>
<rect x="591" y="694" width="1" height="43" fill="#c0c0c0"/>
<rect x="595" y="696" width="1" height="41" fill="#c0c0c0"/>
<rect x="599" y="698" width="1" height="39" fill="#c0c0c0"/>
<rect x="603" y="697" width="1" height="40" fill="#c0c0c0"/>
<rect x="607" y="701" width="1" height="36" fill="#c0c0c0"/>
<rect x="611" y="701" width="1" height="36" fill="#c0c0c0"/>
<rect x="615" y="705" width="1" height="32" fill="#c0c0c0"/>
<rect x="619" y="705" width="1" height="32" fill="#c0c0c0"/>
<rect x="623" y="707" width="1" height="30" fill="#c0c0c0"/>
<rect x="627" y="708" width="1" height="29" fill="#c0c0c0"/>
<rect x="631" y="715" width="1" height="22" fill="#c0c0c0"/>
<rect x="635" y="718" width="1" height="19" fill="#c0c0c0"/>
<rect x="639" y="723" width="1" height="14" fill="#c0c0c0"/>
<rect x="643" y="728" width="1" height="9" fill="#c0c0c0"/>
<rect x="647" y="732" width="1" height="5" fill="#c0c0c0"/>
<rect x="651" y="734" width="1" height="3" fill="#c0c0c0"/>
<rect x="655" y="735" width="1" height="2" fill="#c0c0c0"/>
<rect x="659" y="735" width="1" height="2" fill="#c0c0c0"/>
<rect x="663" y="734" width="1" height="3" fill="#c0c0c0"/>
<rect x="667" y="734" width="1" height="3" fill="#c0c0c0"/>
<rect x="671" y="732" width="1" height="5" fill="#c0c0c0"/>
<rect x="675" y="732" width="1" height="5" fill="#c0c0c0"/>
<rect x="679" y="730" width="1" height="7" fill="#c0c0c0"/>
<rect x="683" y="729" width="1" height="8" fill="#c0c0c0"/>
<rect x="687" y="729" width="1" height="8" fill="#c0c0c0"/>
<rect x="691" y="729" width="1" height="8" fill="#c0c0c0"/>
<rect x="695" y="728" width="1" height="9" fill="#c0c0c0"/>
<rect x="699" y="728" width="1" height="9" fill="#c0c0c0"/>
<rect x="703" y="729" width="1" height="8" fill="#c0c0c0"/>
<rect x="707" y="729" width="1" height="8" fill="#c0c0c0"/>
<rect x="711" y="732" width="1" height="5" fill="#c0c0c0"/>
<rect x="715" y="728" width="1" height="9" fill="#c0c0c0"/>
<rect x="719" y="724" width="1" height="13" fill="#c0c0c0"/>
<rect x="723" y="722" width="1" height="15" fill="#c0c0c0"/>
<rect x="727" y="722" width="1" height="15" fill="#c0c0c0"/>
<rect x="731" y="721" width="1" height="16" fill="#c0c0c0"/>
<rect x="735" y="723" width="1" height="14" fill="#c0c0c0"/>
<rect x="739" y="726" width="1" height="11" fill="#c0c0c0"/>
<rect x="743" y="728" width="1" height="9" fill="#c0c0c0"/>
<rect x="747" y="728" width="1" height="9" fill="#c0c0c0"/>
<rect x="751" y="729" width="1" height="8" fill="#c0c0c0"/>
<rect x="755" y="729" width="1" height="8" fill="#c0c0c0"/>
<rect x="759" y="728" width="1" height="9" fill="#c0c0c0"/>
<rect x="763" y="727" width="1" height="10" fill="#c0c0c0"/>
<rect x="767" y="725" width="1" height="12" fill="#c0c0c0"/>
<rect x="771" y="726" width="1" height="11" fill="#c0c0c0"/>
<rect x="775" y="727" width="1" height="10" fill="#c0c0c0"/>
<rect x="779" y="729" width="1" height="8" fill="#c0c0c0"/>
<rect x="783" y="728" width="1" height="9" fill="#c0c0c0"/>
<rect x="787" y="726" width="1" height="11" fill="#c0c0c0"/>
<rect x="791" y="724" width="1" height="13" fill="#c0c0c0"/>
<rect x="795" y="723" width="1" height="14" fill="#c0c0c0"/>
<rect x="799" y="722" width="1" height="15" fill="#c0c0c0"/>
<rect x="803" y="717" width="1" height="20" fill="#c0c0c0"/>
<rect x="807" y="717" width="1" height="20" fill="#c0c0c0"/>
<rect x="811" y="717" width="1" height="20" fill="#c0c0c0"/>
<rect x="815" y="717" width="1" height="20" fill="#c0c0c0"/>
<rect x="819" y="719" width="1" height="18" fill="#c0c0c0"/>
<rect x="823" y="724" width="1" height="13" fill="#c0c0c0"/>
<rect x="827" y="728" width="1" height="9" fill="#c0c0c0"/>
<rect x="831" y="730" width="1" height="7" fill="#c0c0c0"/>
<rect x="835" y="736" width="1" height="1" fill="#c0c0c0"/>
<rect x="839" y="736" width="1" height="5" fill="#c0c0c0"/>
<rect x="843" y="736" width="1" height="10" fill="#c0c0c0"/>
<rect x="847" y="736" width="1" height="12" fill="#c0c0c0"/>
<rect x="851" y="736" width="1" height="16" fill="#c0c0c0"/>
<rect x="855" y="736" width="1" height="17" fill="#c0c0c0"/>
<rect x="859" y="736" width="1" height="17" fill="#c0c0c0"/>
<rect x="863" y="736" width="1" height="16" fill="#c0c0c0"/>
<rect x="867" y="736" width="1" height="16" fill="#c0c0c0"/>
<rect x="871" y="736" width="1" height="15" fill="#c0c0c0"/>
<rect x="875" y="736" width="1" height="15" fill="#c0c0c0"/>
<rect x="879" y="736" width="1" height="14" fill="#c0c0c0"/>
<rect x="883" y="736" width="1" height="14" fill="#c0c0c0"/>
<rect x="887" y="736" width="1" height="13" fill="#c0c0c0"/>
<rect x="891" y="736" width="1" height="15" fill="#c0c0c0"/>
<rect x="895" y="736" width="1" height="15" fill="#c0c0c0"/>
<rect x="899" y="736" width="1" height="15" fill="#c0c0c0"/>
<rect x="903" y="736" width="1" height="13" fill="#c0c0c0"/>
<rect x="907" y="736" width="1" height="11" fill="#c0c0c0"/>
<rect x="911" y="736" width="1" height="10" fill="#c0c0c0"/>
<rect x="915" y="736" width="1" height="9" fill="#c0c0c0"/>
<rect x="919" y="736" width="1" height="9" fill="#c0c0c0"/>
<rect x="923" y="736" width="1" height="10" fill="#c0c0c0"/>
<rect x="927" y="736" width="1" height="10" fill="#c0c0c0"/>
<rect x="931" y="736" width="1" height="10" fill="#c0c0c0"/>
<rect x="935" y="736" width="1" height="10" fill="#c0c0c0"/>
<rect x="939" y="736" width="1" height="14" fill="#c0c0c0"/>
<rect x="943" y="736" width="1" height="18" fill="#c0c0c0"/>
<rect x="947" y="736" width="1" height="22" fill="#c0c0c0"/>
<rect x="951" y="736" width="1" height="25" fill="#c0c0c0"/>
<rect x="955" y="736" width="1" height="26" fill="#c0c0c0"/>
<rect x="959" y="736" width="1" height="27" fill="#c0c0c0"/>
<rect x="963" y="736" width="1" height="28" fill="#c0c0c0"/>
<rect x="967" y="736" width="1" height="27" fill="#c0c0c0"/>
<rect x="971" y="736" width="1" height="29" fill="#c0c0c0"/>
<rect x="975" y="736" width="1" height="30" fill="#c0c0c0"/>
<rect x="979" y="736" width="1" height="29" fill="#c0c0c0"/>
<rect x="983" y="736" width="1" height="28" fill="#c0c0c0"/>
<rect x="987" y="736" width="1" height="28" fill="#c0c0c0"/>
<rect x="991" y="736" width="1" height="28" fill="#c0c0c0"/>
<rect x="995" y="736" width="1" height="27" fill="#c0c0c0"/>
<rect x="999" y="736" width="1" height="25" fill="#c0c0c0"/>
<rect x="1003" y="736" width="1" height="21" fill="#c0c0c0"/>
<rect x="1007" y="736" width="1" height="18" fill="#c0c0c0"/>
<rect x="1011" y="736" width="1" height="17" fill="#c0c0c0"/>
<rect x="1015" y="736" width="1" height="16" fill="#c0c0c0"/>
<rect x="1019" y="736" width="1" height="15" fill="#c0c0c0"/>
<rect x="1023" y="736" width="1" height="13" fill="#c0c0c0"/>
<rect x="1027" y="736" width="1" height="15" fill="#c0c0c0"/>
<rect x="1031" y="736" width="1" height="15" fill="#c0c0c0"/>
<rect x="1035" y="736" width="1" height="16" fill="#c0c0c0"/>
<rect x="1039" y="736" width="1" height="16" fill="#c0c0c0"/>
<rect x="1043" y="736" width="1" height="21" fill="#c0c0c0"/>
<rect x="1047" y="736" width="1" height="23" fill="#c0c0c0"/>
<rect x="1051" y="736" width="1" height="22" fill="#c0c0c0"/>
<rect x="1055" y="736" width="1" height="21" fill="#c0c0c0"/>
<rect x="1059" y="736" width="1" height="21" fill="#c0c0c0"/>
<rect x="1063" y="736" width="1" height="23" fill="#c0c0c0"/>
<rect x="1067" y="736" width="1" height="24" fill="#c0c0c0"/>
<rect x="1071" y="736" width="1" height="24" fill="#c0c0c0"/>
<rect x="1075" y="736" width="1" height="23" fill="#c0c0c0"/>
<rect x="1079" y="736" width="1" height="23" fill="#c0c0c0"/>
<rect x="1083" y="736" width="1" height="24" fill="#c0c0c0"/>
<rect x="1087" y="736" width="1" height="27" fill="#c0c0c0"/>
<rect x="1091" y="736" width="1" height="28" fill="#c0c0c0"/>
<rect x="1095" y="736" width="1" height="29" fill="#c0c0c0"/>
<rect x="1099" y="736" width="1" height="28" fill="#c0c0c0"/>
<rect x="1103" y="736" width="1" height="27" fill="#c0c0c0"/>
<rect x="1107" y="736" width="1" height="27" fill="#c0c0c0"/>
<rect x="1111" y="736" width="1" height="27" fill="#c0c0c0"/>
<rect x="1115" y="736" width="1" height="29" fill="#c0c0c0"/>
<rect x="1119" y="736" width="1" height="30" fill="#c0c0c0"/>
<rect x="1123" y="736" width="1" height="33" fill="#c0c0c0"/>
<rect x="1127" y="736" width="1" height="35" fill="#c0c0c0"/>
<rect x="1131" y="736" width="1" height="37" fill="#c0c0c0"/>
<rect x="1135" y="736" width="1" height="40" fill="#c0c0c0"/>
<rect x="1139" y="736" width="1" height="41" fill="#c0c0c0"/>
<rect x="1143" y="736" width="1" height="41" fill="#c0c0c0"/>
<rect x="1147" y="736" width="1" height="40" fill="#c0c0c0"/>
<rect x="1151" y="736" width="1" height="40" fill="#c0c0c0"/>
<rect x="1155" y="736" width="1" height="40" fill="#c0c0c0"/>
<rect x="1159" y="736" width="1" height="37" fill="#c0c0c0"/>
<rect x="1163" y="736" width="1" height="37" fill="#c0c0c0"/>
<rect x="1167" y="736" width="1" height="36" fill="#c0c0c0"/>
<rect x="1171" y="736" width="1" height="35" fill="#c0c0c0"/>
<rect x="1175" y="736" width="1" height="34" fill="#c0c0c0"/>
<rect x="1179" y="736" width="1" height="35" fill="#c0c0c0"/>
<rect x="1183" y="736" width="1" height="38" fill="#c0c0c0"/>
<rect x="1187" y="736" width="1" height="42" fill="#c0c0c0"/>
<rect x="1191" y="736" width="1" height="44" fill="#c0c0c0"/>
<rect x="1195" y="736" width="1" height="45" fill="#c0c0c0"/>
<rect x="1199" y="736" width="1" height="44" fill="#c0c0c0"/>
<rect x="1203" y="736" width="1" height="41" fill="#c0c0c0"/>
<rect x="1207" y="736" width="1" height="39" fill="#c0c0c0"/>
<rect x="1211" y="736" width="1" height="34" fill="#c0c0c0"/>
<rect x="1215" y="736" width="1" height="29" fill="#c0c0c0"/>
<rect x="1219" y="736" width="1" height="24" fill="#c0c0c0"/>
<rect x="1223" y="736" width="1" height="20" fill="#c0c0c0"/>
<rect x="1227" y="736" width="1" height="19" fill="#c0c0c0"/>
<rect x="1231" y="736" width="1" height="17" fill="#c0c0c0"/>
<rect x="1235" y="736" width="1" height="18" fill="#c0c0c0"/>
<rect x="1239" y="736" width="1" height="23" fill="#c0c0c0"/>
<rect x="1243" y="736" width="1" height="25" fill="#c0c0c0"/>
<rect x="1247" y="736" width="1" height="27" fill="#c0c0c0"/>
<rect x="1251" y="736" width="1" height="32" fill="#c0c0c0"/>
<rect x="1255" y="736" width="1" height="33" fill="#c0c0c0"/>
<rect x="1259" y="736" width="1" height="35" fill="#c0c0c0"/>
<rect x="1263" y="736" width="1" height="34" fill="#c0c0c0"/>
<rect x="1267" y="736" width="1" height="34" fill="#c0c0c0"/>
</g>
<path d="M603 695.5h3M610 696.5h2M615 697.5h3M622 699.5h2M627 702.5h2M633 705.5h2M640 710.5h2M645 713.5h2M496 718.5h3M502 718.5h3M490 719.5h3M819 719.5h3M442 720.5h3M448 720.5h2M484 720.5h3M509 720.5h2M826 720.5h2M436 721.5h2M454 721.5h3M460 721.5h2M478 721.5h3M813 721.5h2M831 721.5h3M431 722.5h2M472 722.5h3M3 723.5h3M9 723.5h3M15 723.5h3M466 723.5h3M807 723.5h3M837 723.5h2M742 724.5h2M747 724.5h3M753 724.5h3M802 724.5h2M21 725.5h2M730 725.5h2M735 725.5h3M759 725.5h3M795 725.5h3M424 726.5h2M766 726.5h2M771 726.5h3M789 726.5h3M663 727.5h2M723 727.5h3M778 727.5h2M783 727.5h3M27 728.5h2M717 728.5h3M520 729.5h2M705 729.5h3M711 729.5h3M844 729.5h2M669 730.5h2M694 730.5h2M699 730.5h3M33 731.5h2M675 732.5h3M681 732.5h3M687 732.5h3M39 735.5h2M225 736.5h3M231 736.5h3M214 737.5h2M219 737.5h3M45 738.5h2M238 738.5h2M207 739.5h3M243 739.5h2M202 740.5h2M856 740.5h2M532 741.5h2M52 742.5h2M195 742.5h3M250 742.5h2M190 743.5h2M555 743.5h2M255 744.5h3M57 745.5h2M183 745.5h3M550 745.5h2M262 746.5h2M543 746.5h3M934 746.5h2M939 746.5h3M63 747.5h3M267 747.5h3M286 747.5h2M867 747.5h2M927 747.5h3M177 748.5h2M274 748.5h2M279 748.5h3M291 748.5h3M297 748.5h3M922 748.5h2M946 748.5h2M70 749.5h2M303 749.5h3M910 749.5h2M915 749.5h3M75 750.5h3M171 750.5h3M873 750.5h2M898 750.5h2M903 750.5h3M951 750.5h3M82 751.5h2M310 751.5h2M879 751.5h3M885 751.5h3M891 751.5h3M87 752.5h3M315 752.5h3M957 752.5h2M1035 752.5h3M1041 752.5h3M94 753.5h2M165 753.5h2M1030 753.5h2M1047 753.5h3M99 754.5h3M322 754.5h2M1054 754.5h2M327 755.5h3M963 755.5h2M1059 755.5h3M106 756.5h2M160 756.5h2M1023 756.5h2M111 757.5h3M334 757.5h2M1066 757.5h2M969 758.5h2M1018 758.5h2M1071 758.5h3M1246 758.5h2M339 759.5h2M1078 759.5h2M1083 759.5h3M1251 759.5h3M153 760.5h2M1089 760.5h3M975 761.5h2M1011 761.5h2M1095 761.5h3M1239 761.5h2M1258 761.5h2M123 762.5h3M147 762.5h3M345 762.5h2M1006 762.5h2M1101 762.5h3M1107 763.5h3M1113 763.5h3M1263 763.5h3M130 764.5h2M135 764.5h3M141 764.5h3M982 764.5h2M987 764.5h3M999 764.5h3M1119 764.5h3M351 765.5h2M388 765.5h2M994 765.5h2M1125 765.5h3M1131 766.5h3M357 768.5h2M1137 768.5h2M1228 768.5h2M363 770.5h2M381 770.5h2M1143 771.5h3M375 772.5h3M370 773.5h2M1150 773.5h2M1179 773.5h3M1185 773.5h3M1221 773.5h2M1155 774.5h3M1173 774.5h3M1191 774.5h3M1162 775.5h2M1167 775.5h3M1198 775.5h2M1215 775.5h3M1203 776.5h3M1209 776.5h3M23.5 726v1M29.5 729v1M35.5 732v1M41.5 736v1M47.5 739v1M51.5 741v1M59.5 746v1M69.5 748v1M81.5 750v1M93.5 752v1M105.5 755v1M117.5 759v1M118.5 760v1M119.5 761v1M129.5 763v1M155.5 759v1M159.5 757v1M167.5 752v1M179.5 747v1M189.5 744v1M201.5 741v1M213.5 738v1M237.5 737v1M245.5 740v1M249.5 741v1M261.5 745v1M273.5 747v1M285.5 748v1M309.5 750v1M321.5 753v1M333.5 756v1M341.5 760v1M347.5 763v1M353.5 766v1M359.5 769v1M365.5 771v1M369.5 772v1M383.5 769v1M387.5 766v1M393.5 761v1M394.5 760v1M395.5 759v1M398.5 755v1M399.5 754v1M400.5 753v1M403.5 749v1M404.5 748v1M405.5 747v1M408.5 743v1M409.5 741v2M413.5 736v2M414.5 735v1M418.5 731v1M419.5 730v1M420.5 729v1M426.5 725v1M430.5 723v1M438.5 720v1M450.5 721v1M462.5 722v1M508.5 719v1M514.5 724v1M515.5 725v1M516.5 726v1M522.5 730v1M525.5 734v1M526.5 735v1M527.5 736v1M531.5 740v1M537.5 744v1M538.5 745v1M539.5 746v1M549.5 746v1M557.5 742v1M561.5 739v1M562.5 738v1M563.5 737v1M567.5 733v1M568.5 732v1M569.5 731v1M572.5 726v2M573.5 725v1M576.5 720v2M577.5 719v1M580.5 715v1M581.5 713v2M585.5 709v1M586.5 708v1M587.5 707v1M591.5 703v1M592.5 702v1M593.5 701v1M597.5 698v1M598.5 697v1M599.5 696v1M609.5 695v1M621.5 698v1M629.5 703v1M635.5 706v1M639.5 709v1M647.5 714v1M651.5 717v1M652.5 718v1M653.5 719v1M657.5 723v1M658.5 724v1M659.5 725v1M665.5 728v1M671.5 731v1M693.5 731v1M729.5 726v1M741.5 725v1M765.5 725v1M777.5 726v1M801.5 725v1M815.5 720v1M825.5 719v1M839.5 724v1M843.5 728v1M849.5 733v1M850.5 734v1M851.5 735v1M855.5 739v1M861.5 743v1M862.5 744v1M863.5 745v1M869.5 748v1M875.5 751v1M897.5 751v1M909.5 750v1M921.5 749v1M933.5 747v1M945.5 747v1M959.5 753v1M965.5 756v1M971.5 759v1M977.5 762v1M981.5 763v1M993.5 764v1M1005.5 763v1M1013.5 760v1M1017.5 759v1M1025.5 755v1M1029.5 754v1M1053.5 753v1M1065.5 756v1M1077.5 758v1M1139.5 769v1M1149.5 772v1M1161.5 774v1M1197.5 774v1M1223.5 772v1M1227.5 769v1M1233.5 765v1M1234.5 764v1M1235.5 763v1M1241.5 760v1M1245.5 759v1M1257.5 760v1" stroke="#ff0000" stroke-width="1" fill="none" shape-rendering="crispEdges"/>
</g>
<g shape-rendering="crispEdges">
<rect x="3" y="787" width="1" height="3" fill="#000"/>
<rect x="67" y="787" width="1" height="3" fill="#000"/>
<rect x="131" y="787" width="1" height="3" fill="#000"/>
<rect x="195" y="787" width="1" height="3" fill="#000"/>
<rect x="259" y="787" width="1" height="3" fill="#000"/>
<rect x="323" y="787" width="1" height="3" fill="#000"/>
<rect x="387" y="787" width="1" height="3" fill="#000"/>
<rect x="451" y="787" width="1" height="3" fill="#000"/>
<rect x="515" y="787" width="1" height="3" fill="#000"/>
<rect x="579" y="787" width="1" height="3" fill="#000"/>
<rect x="643" y="787" width="1" height="3" fill="#000"/>
<rect x="707" y="787" width="1" height="3" fill="#000"/>
<rect x="771" y="787" width="1" height="3" fill="#000"/>
<rect x="835" y="787" width="1" height="3" fill="#000"/>
<rect x="899" y="787" width="1" height="3" fill="#000"/>
<rect x="963" y="787" width="1" height="3" fill="#000"/>
<rect x="1027" y="787" width="1" height="3" fill="#000"/>
<rect x="1091" y="787" width="1" height="3" fill="#000"/>
<rect x="1155" y="787" width="1" height="3" fill="#000"/>
<rect x="1219" y="787" width="1" height="3" fill="#000"/>
</g>
<text x="2.5" y="799" font-size="10.0" fill="#000" text-anchor="start" textLength="45.1" lengthAdjust="spacingAndGlyphs" stroke="#000" stroke-width="0.25">7 Oct 2019</text>
<text x="66.5" y="799" font-size="10.0" fill="#000" text-anchor="start" textLength="50.2" lengthAdjust="spacingAndGlyphs" stroke="#000" stroke-width="0.25">25 Oct 2019</text>
<text x="130.5" y="799" font-size="10.0" fill="#000" text-anchor="start" textLength="53.4" lengthAdjust="spacingAndGlyphs" stroke="#000" stroke-width="0.25">13 Nov 2019</text>
<text x="194.5" y="799" font-size="10.0" fill="#000" text-anchor="start" textLength="46.4" lengthAdjust="spacingAndGlyphs" stroke="#000" stroke-width="0.25">2 Dec 2019</text>
<text x="258.5" y="799" font-size="10.0" fill="#000" text-anchor="start" textLength="51.4" lengthAdjust="spacingAndGlyphs" stroke="#000" stroke-width="0.25">20 Dec 2019</text>
<text x="322.5" y="799" font-size="10.0" fill="#000" text-anchor="start" textLength="44.2" lengthAdjust="spacingAndGlyphs" stroke="#000" stroke-width="0.25">8 Jan 2020</text>
<text x="386.5" y="799" font-size="10.0" fill="#000" text-anchor="start" textLength="49" lengthAdjust="spacingAndGlyphs" stroke="#000" stroke-width="0.25">27 Jan 2020</text>
<text x="450.5" y="799" font-size="10.0" fill="#000" text-anchor="start" textLength="51.4" lengthAdjust="spacingAndGlyphs" stroke="#000" stroke-width="0.25">14 Feb 2020</text>
<text x="514.5" y="799" font-size="10.0" fill="#000" text-anchor="start" textLength="46.4" lengthAdjust="spacingAndGlyphs" stroke="#000" stroke-width="0.25">4 Mar 2020</text>
<text x="578.5" y="799" font-size="10.0" fill="#000" text-anchor="start" textLength="50.9" lengthAdjust="spacingAndGlyphs" stroke="#000" stroke-width="0.25">23 Mar 2020</text>
<text x="642.5" y="799" font-size="10.0" fill="#000" text-anchor="start" textLength="50.2" lengthAdjust="spacingAndGlyphs" stroke="#000" stroke-width="0.25">10 Apr 2020</text>
<text x="706.5" y="799" font-size="10.0" fill="#000" text-anchor="start" textLength="50.2" lengthAdjust="spacingAndGlyphs" stroke="#000" stroke-width="0.25">29 Apr 2020</text>
<text x="770.5" y="799" font-size="10.0" fill="#000" text-anchor="start" textLength="54" lengthAdjust="spacingAndGlyphs" stroke="#000" stroke-width="0.25">18 May 2020</text>
<text x="834.5" y="799" font-size="10.0" fill="#000" text-anchor="start" textLength="44.6" lengthAdjust="spacingAndGlyphs" stroke="#000" stroke-width="0.25">5 Jun 2020</text>
<text x="898.5" y="799" font-size="10.0" fill="#000" text-anchor="start" textLength="49.6" lengthAdjust="spacingAndGlyphs" stroke="#000" stroke-width="0.25">24 Jun 2020</text>
<text x="962.5" y="799" font-size="10.0" fill="#000" text-anchor="start" textLength="46.1" lengthAdjust="spacingAndGlyphs" stroke="#000" stroke-width="0.25">13 Jul 2020</text>
<text x="1026.5" y="799" font-size="10.0" fill="#000" text-anchor="start" textLength="46.4" lengthAdjust="spacingAndGlyphs" stroke="#000" stroke-width="0.25">31 Jul 2020</text>
<text x="1090.5" y="799" font-size="10.0" fill="#000" text-anchor="start" textLength="51.9" lengthAdjust="spacingAndGlyphs" stroke="#000" stroke-width="0.25">19 Aug 2020</text>
<text x="1154.5" y="799" font-size="10.0" fill="#000" text-anchor="start" textLength="46.2" lengthAdjust="spacingAndGlyphs" stroke="#000" stroke-width="0.25">7 Sep 2020</text>
<text x="1218.5" y="799" font-size="10.0" fill="#000" text-anchor="start" textLength="51.6" lengthAdjust="spacingAndGlyphs" stroke="#000" stroke-width="0.25">25 Sep 2020</text>
<g shape-rendering="crispEdges">
<rect x="0" y="807" width="1635" height="1" fill="#e6e6e6"/>
<rect x="0" y="810" width="1635" height="19" fill="#f0f0f0"/>
<rect x="0" y="829" width="1635" height="3" fill="#fafafa"/>
<rect x="0" y="809" width="1635" height="1" fill="#000"/>
<rect x="416" y="809" width="104" height="19" fill="#000"/>
<rect x="417" y="809" width="102" height="18" fill="#fff"/>
</g>
<text x="16" y="824" font-size="13" fill="#6e6e6e" text-anchor="start" textLength="80" lengthAdjust="spacingAndGlyphs">EURUSD,Daily</text>
<text x="118" y="824" font-size="13" fill="#6e6e6e" text-anchor="start" textLength="79" lengthAdjust="spacingAndGlyphs">USDCHF,Daily</text>
<text x="218.5" y="824" font-size="13" fill="#6e6e6e" text-anchor="start" textLength="83" lengthAdjust="spacingAndGlyphs">AUDUSD,Daily</text>
<text x="323" y="824" font-size="13" fill="#6e6e6e" text-anchor="start" textLength="81" lengthAdjust="spacingAndGlyphs">USDCAD,Daily</text>
<text x="532" y="824" font-size="13" fill="#6e6e6e" text-anchor="start" textLength="80" lengthAdjust="spacingAndGlyphs">EURUSD,Daily</text>
<text x="636" y="824" font-size="13" fill="#6e6e6e" text-anchor="start" textLength="68" lengthAdjust="spacingAndGlyphs">GBPUSD,H1</text>
<text x="726" y="824" font-size="13" fill="#6e6e6e" text-anchor="start" textLength="79" lengthAdjust="spacingAndGlyphs">XAUUSD,M15</text>
<text x="827" y="824" font-size="13" fill="#6e6e6e" text-anchor="start" textLength="50" lengthAdjust="spacingAndGlyphs">HK50,H1</text>
<text x="899" y="824" font-size="13" fill="#6e6e6e" text-anchor="start" textLength="57" lengthAdjust="spacingAndGlyphs">UK100,H1</text>
<text x="979" y="824" font-size="13" fill="#6e6e6e" text-anchor="start" textLength="57" lengthAdjust="spacingAndGlyphs">UK100,H1</text>
<text x="1059" y="824" font-size="13" fill="#6e6e6e" text-anchor="start" textLength="57" lengthAdjust="spacingAndGlyphs">GER30,H1</text>
<text x="1138" y="824" font-size="13" fill="#6e6e6e" text-anchor="start" textLength="55" lengthAdjust="spacingAndGlyphs">FRA40,H1</text>
<text x="1214" y="824" font-size="13" fill="#6e6e6e" text-anchor="start" textLength="51" lengthAdjust="spacingAndGlyphs">USOil,H4</text>
<text x="1286" y="824" font-size="13" fill="#6e6e6e" text-anchor="start" textLength="76" lengthAdjust="spacingAndGlyphs">USDJPY,Daily</text>
<text x="1382" y="824" font-size="13" fill="#6e6e6e" text-anchor="start" textLength="60" lengthAdjust="spacingAndGlyphs">DJ30,Daily</text>
<text x="1462" y="824" font-size="13" fill="#6e6e6e" text-anchor="start" textLength="79" lengthAdjust="spacingAndGlyphs">CHINA300,H1</text>
<text x="1562" y="824" font-size="13" fill="#6e6e6e" text-anchor="start" textLength="44" lengthAdjust="spacingAndGlyphs">USOil,H</text>
<text x="426.5" y="824" font-size="13" fill="#000" text-anchor="start" textLength="82.5" lengthAdjust="spacingAndGlyphs">USDCNH,Daily</text>
<g shape-rendering="crispEdges">
<rect x="108" y="812" width="1" height="14" fill="#7a7a7a"/>
<rect x="208" y="812" width="1" height="14" fill="#7a7a7a"/>
<rect x="312" y="812" width="1" height="14" fill="#7a7a7a"/>
<rect x="624" y="812" width="1" height="14" fill="#7a7a7a"/>
<rect x="716" y="812" width="1" height="14" fill="#7a7a7a"/>
<rect x="816" y="812" width="1" height="14" fill="#7a7a7a"/>
<rect x="888" y="812" width="1" height="14" fill="#7a7a7a"/>
<rect x="968" y="812" width="1" height="14" fill="#7a7a7a"/>
<rect x="1048" y="812" width="1" height="14" fill="#7a7a7a"/>
<rect x="1128" y="812" width="1" height="14" fill="#7a7a7a"/>
<rect x="1205" y="812" width="1" height="14" fill="#7a7a7a"/>
<rect x="1276" y="812" width="1" height="14" fill="#7a7a7a"/>
<rect x="1372" y="812" width="1" height="14" fill="#7a7a7a"/>
<rect x="1452" y="812" width="1" height="14" fill="#7a7a7a"/>
<rect x="1552" y="812" width="1" height="14" fill="#7a7a7a"/>
</g>
<path d="M1614.5 814.8 L1614.5 821.4 L1611 818.1 Z" fill="#a0a0a0"/>
<path d="M1630 814.6 L1630 821.4 L1633.6 818 Z" fill="#000"/>
</svg>
</body></html>
